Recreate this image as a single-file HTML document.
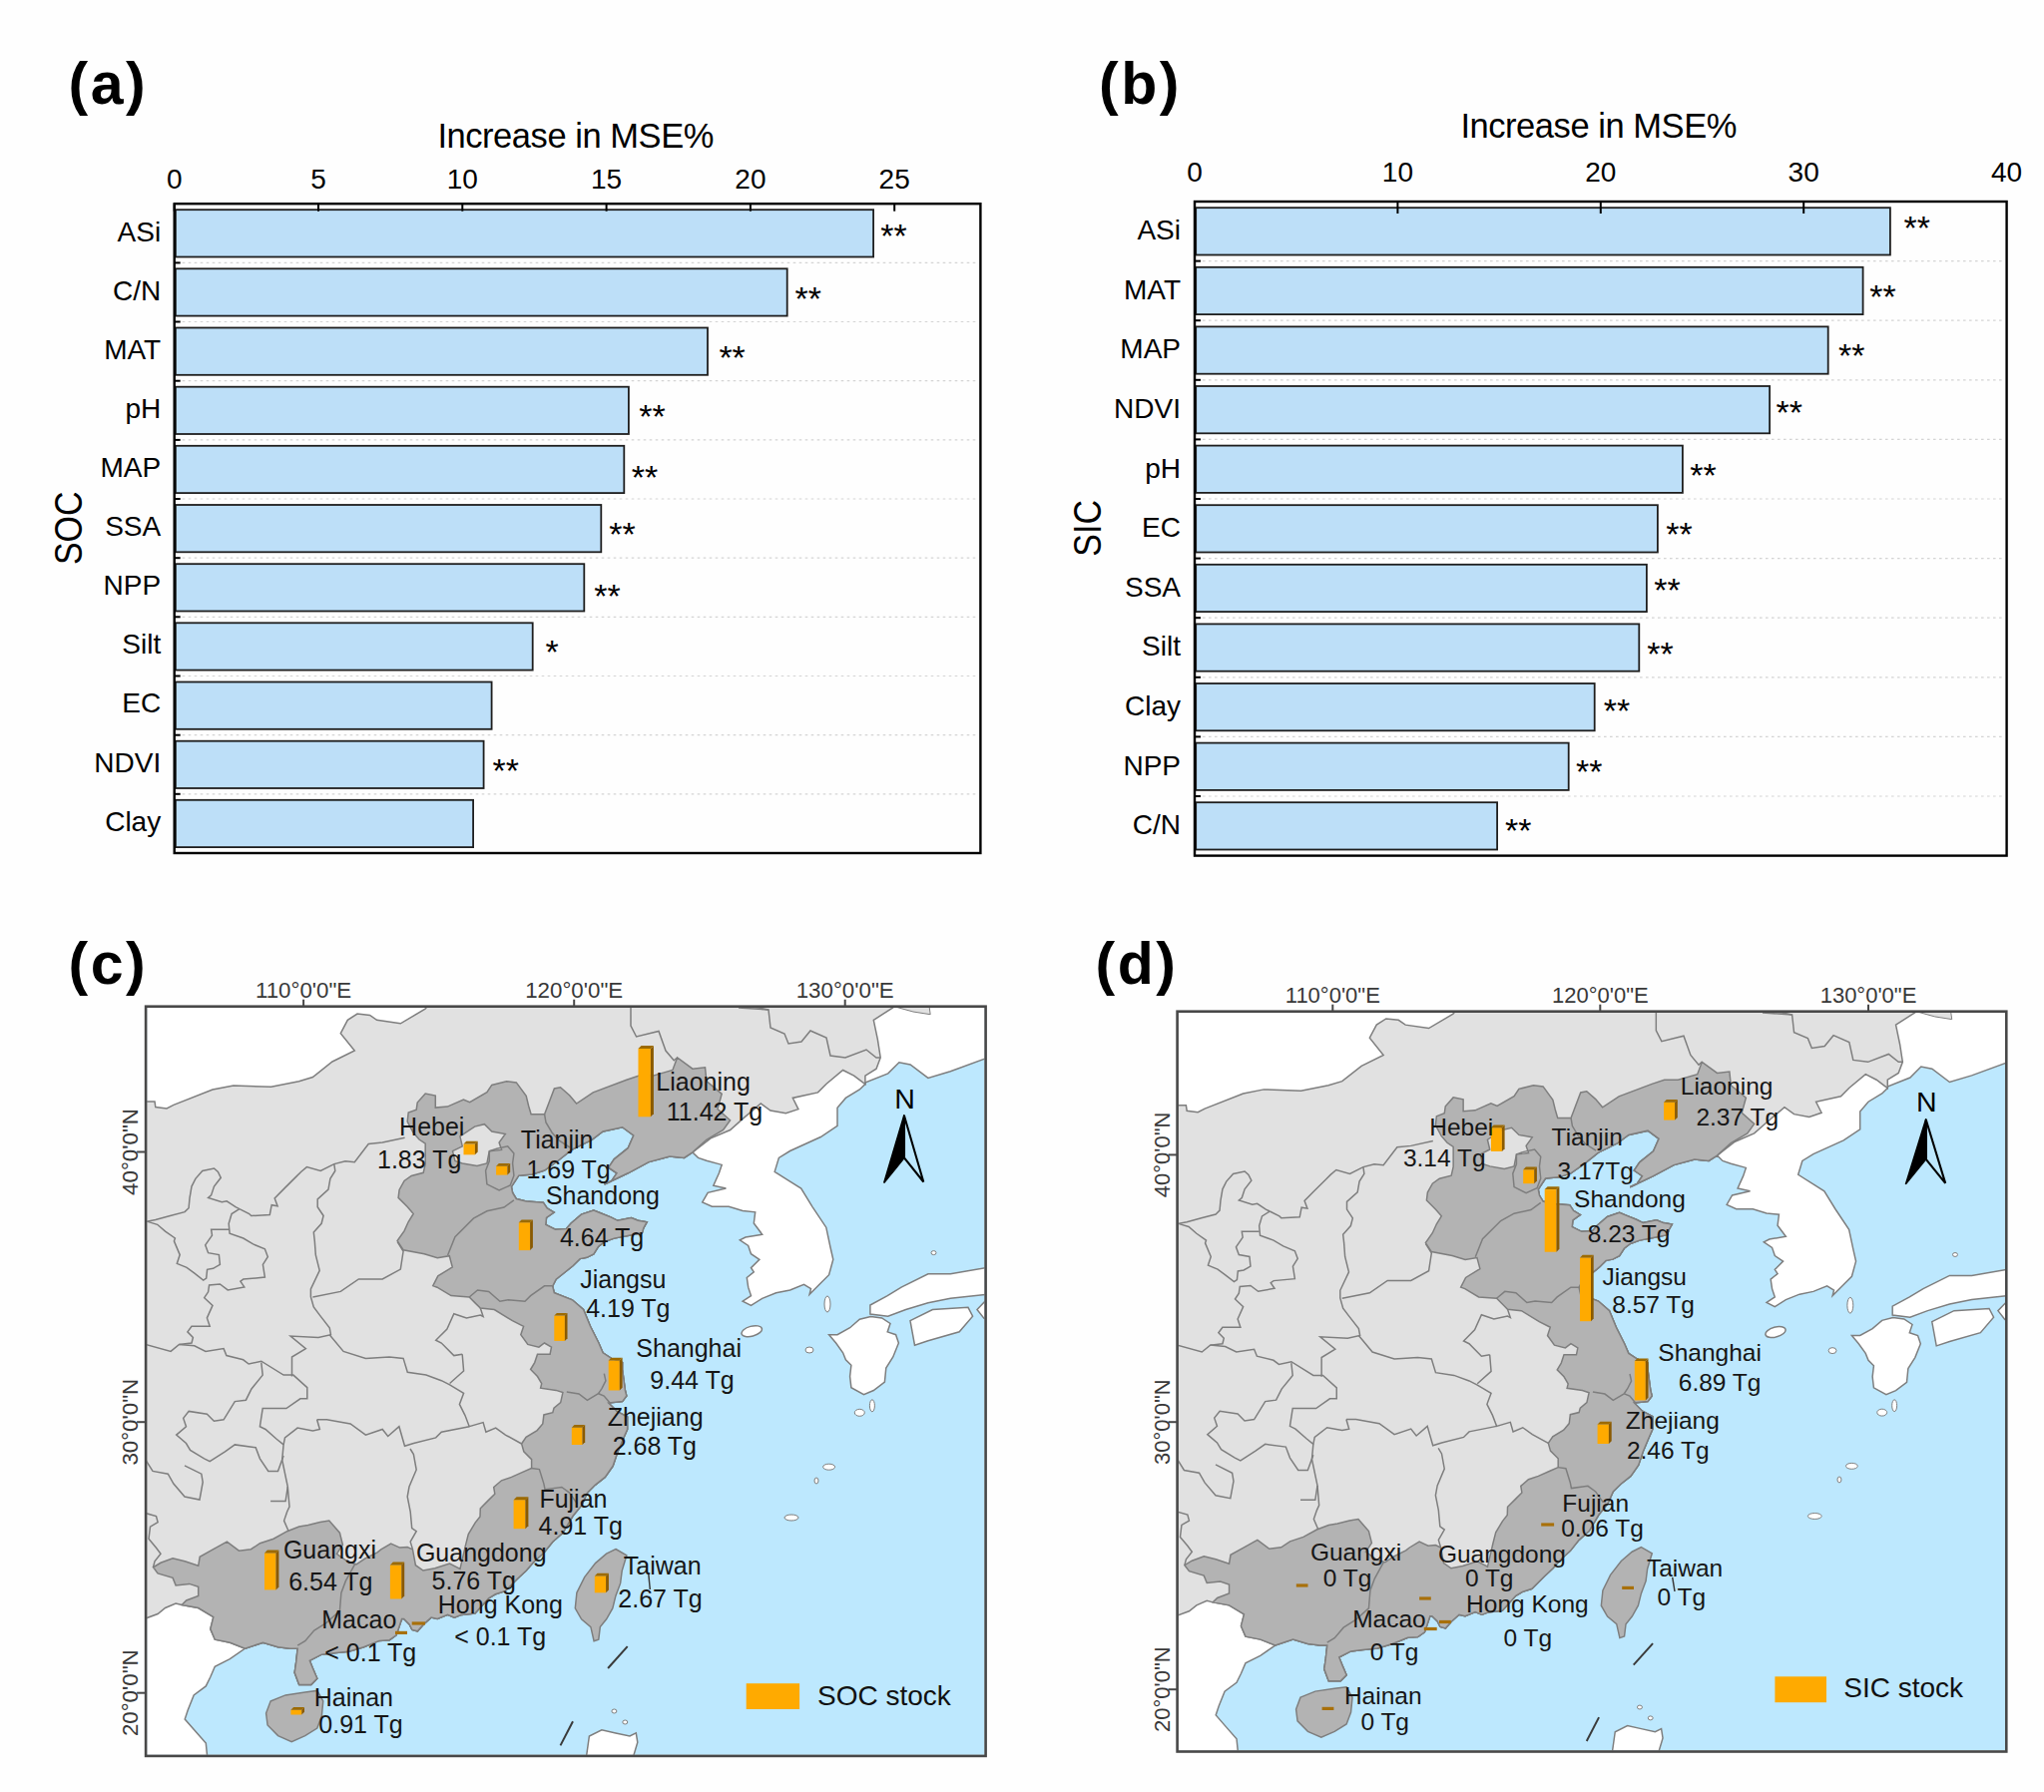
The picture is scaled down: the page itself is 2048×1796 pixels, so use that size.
<!DOCTYPE html><html><head><meta charset="utf-8"><style>html,body{margin:0;padding:0;background:#fff;}body{width:2048px;height:1796px;overflow:hidden;}svg{display:block;}</style></head><body>
<svg xmlns="http://www.w3.org/2000/svg" width="2048" height="1796" viewBox="0 0 2048 1796" font-family="'Liberation Sans', sans-serif">
<rect x="0" y="0" width="2048" height="1796" fill="#fefefe"/>
<line x1="176.7" y1="263.4" x2="980.4" y2="263.4" stroke="#d4d4d4" stroke-width="1.2" stroke-dasharray="2.6 3.4"/>
<line x1="176.7" y1="322.5" x2="980.4" y2="322.5" stroke="#d4d4d4" stroke-width="1.2" stroke-dasharray="2.6 3.4"/>
<line x1="176.7" y1="381.7" x2="980.4" y2="381.7" stroke="#d4d4d4" stroke-width="1.2" stroke-dasharray="2.6 3.4"/>
<line x1="176.7" y1="440.9" x2="980.4" y2="440.9" stroke="#d4d4d4" stroke-width="1.2" stroke-dasharray="2.6 3.4"/>
<line x1="176.7" y1="500.0" x2="980.4" y2="500.0" stroke="#d4d4d4" stroke-width="1.2" stroke-dasharray="2.6 3.4"/>
<line x1="176.7" y1="559.2" x2="980.4" y2="559.2" stroke="#d4d4d4" stroke-width="1.2" stroke-dasharray="2.6 3.4"/>
<line x1="176.7" y1="618.3" x2="980.4" y2="618.3" stroke="#d4d4d4" stroke-width="1.2" stroke-dasharray="2.6 3.4"/>
<line x1="176.7" y1="677.5" x2="980.4" y2="677.5" stroke="#d4d4d4" stroke-width="1.2" stroke-dasharray="2.6 3.4"/>
<line x1="176.7" y1="736.7" x2="980.4" y2="736.7" stroke="#d4d4d4" stroke-width="1.2" stroke-dasharray="2.6 3.4"/>
<line x1="176.7" y1="795.8" x2="980.4" y2="795.8" stroke="#d4d4d4" stroke-width="1.2" stroke-dasharray="2.6 3.4"/>
<rect x="175.9" y="210.2" width="699.2" height="47.3" fill="#bddff8" stroke="#1e1e1e" stroke-width="1.8"/>
<text x="161.2" y="241.7" font-size="28" text-anchor="end" font-weight="normal" fill="#000" >ASi</text>
<rect x="175.9" y="269.3" width="612.8" height="47.3" fill="#bddff8" stroke="#1e1e1e" stroke-width="1.8"/>
<text x="161.2" y="300.8" font-size="28" text-anchor="end" font-weight="normal" fill="#000" >C/N</text>
<rect x="175.9" y="328.5" width="533.1" height="47.3" fill="#bddff8" stroke="#1e1e1e" stroke-width="1.8"/>
<text x="161.2" y="359.8" font-size="28" text-anchor="end" font-weight="normal" fill="#000" >MAT</text>
<rect x="175.9" y="387.7" width="454.0" height="47.3" fill="#bddff8" stroke="#1e1e1e" stroke-width="1.8"/>
<text x="161.2" y="418.9" font-size="28" text-anchor="end" font-weight="normal" fill="#000" >pH</text>
<rect x="175.9" y="446.8" width="449.4" height="47.3" fill="#bddff8" stroke="#1e1e1e" stroke-width="1.8"/>
<text x="161.2" y="478.0" font-size="28" text-anchor="end" font-weight="normal" fill="#000" >MAP</text>
<rect x="175.9" y="506.0" width="426.4" height="47.3" fill="#bddff8" stroke="#1e1e1e" stroke-width="1.8"/>
<text x="161.2" y="537.1" font-size="28" text-anchor="end" font-weight="normal" fill="#000" >SSA</text>
<rect x="175.9" y="565.2" width="409.4" height="47.3" fill="#bddff8" stroke="#1e1e1e" stroke-width="1.8"/>
<text x="161.2" y="596.2" font-size="28" text-anchor="end" font-weight="normal" fill="#000" >NPP</text>
<rect x="175.9" y="624.3" width="357.8" height="47.3" fill="#bddff8" stroke="#1e1e1e" stroke-width="1.8"/>
<text x="161.2" y="655.4" font-size="28" text-anchor="end" font-weight="normal" fill="#000" >Silt</text>
<rect x="175.9" y="683.5" width="316.7" height="47.3" fill="#bddff8" stroke="#1e1e1e" stroke-width="1.8"/>
<text x="161.2" y="714.4" font-size="28" text-anchor="end" font-weight="normal" fill="#000" >EC</text>
<rect x="175.9" y="742.7" width="308.7" height="47.3" fill="#bddff8" stroke="#1e1e1e" stroke-width="1.8"/>
<text x="161.2" y="773.6" font-size="28" text-anchor="end" font-weight="normal" fill="#000" >NDVI</text>
<rect x="175.9" y="801.8" width="298.2" height="47.3" fill="#bddff8" stroke="#1e1e1e" stroke-width="1.8"/>
<text x="161.2" y="832.6" font-size="28" text-anchor="end" font-weight="normal" fill="#000" >Clay</text>
<line x1="174.7" y1="263.4" x2="180.7" y2="263.4" stroke="#000" stroke-width="2"/>
<line x1="174.7" y1="322.5" x2="180.7" y2="322.5" stroke="#000" stroke-width="2"/>
<line x1="174.7" y1="381.7" x2="180.7" y2="381.7" stroke="#000" stroke-width="2"/>
<line x1="174.7" y1="440.9" x2="180.7" y2="440.9" stroke="#000" stroke-width="2"/>
<line x1="174.7" y1="500.0" x2="180.7" y2="500.0" stroke="#000" stroke-width="2"/>
<line x1="174.7" y1="559.2" x2="180.7" y2="559.2" stroke="#000" stroke-width="2"/>
<line x1="174.7" y1="618.3" x2="180.7" y2="618.3" stroke="#000" stroke-width="2"/>
<line x1="174.7" y1="677.5" x2="180.7" y2="677.5" stroke="#000" stroke-width="2"/>
<line x1="174.7" y1="736.7" x2="180.7" y2="736.7" stroke="#000" stroke-width="2"/>
<line x1="174.7" y1="795.8" x2="180.7" y2="795.8" stroke="#000" stroke-width="2"/>
<text x="882.2" y="248.4" font-size="34" text-anchor="start" font-weight="normal" fill="#000" >**</text>
<text x="796.6" y="311.0" font-size="34" text-anchor="start" font-weight="normal" fill="#000" >**</text>
<text x="720.4" y="370.0" font-size="34" text-anchor="start" font-weight="normal" fill="#000" >**</text>
<text x="640.3" y="429.3" font-size="34" text-anchor="start" font-weight="normal" fill="#000" >**</text>
<text x="632.8" y="489.5" font-size="34" text-anchor="start" font-weight="normal" fill="#000" >**</text>
<text x="610.2" y="547.0" font-size="34" text-anchor="start" font-weight="normal" fill="#000" >**</text>
<text x="595.2" y="608.8" font-size="34" text-anchor="start" font-weight="normal" fill="#000" >**</text>
<text x="546.6" y="665.0" font-size="34" text-anchor="start" font-weight="normal" fill="#000" >*</text>
<text x="493.5" y="783.6" font-size="34" text-anchor="start" font-weight="normal" fill="#000" >**</text>
<rect x="174.7" y="204.2" width="807.7" height="650.8" fill="none" stroke="#000" stroke-width="2.4"/>
<line x1="174.7" y1="204.2" x2="174.7" y2="211.7" stroke="#000" stroke-width="2"/>
<text x="174.7" y="189.0" font-size="28" text-anchor="middle" font-weight="normal" fill="#000" >0</text>
<line x1="319.0" y1="204.2" x2="319.0" y2="211.7" stroke="#000" stroke-width="2"/>
<text x="319.0" y="189.0" font-size="28" text-anchor="middle" font-weight="normal" fill="#000" >5</text>
<line x1="463.3" y1="204.2" x2="463.3" y2="211.7" stroke="#000" stroke-width="2"/>
<text x="463.3" y="189.0" font-size="28" text-anchor="middle" font-weight="normal" fill="#000" >10</text>
<line x1="607.6" y1="204.2" x2="607.6" y2="211.7" stroke="#000" stroke-width="2"/>
<text x="607.6" y="189.0" font-size="28" text-anchor="middle" font-weight="normal" fill="#000" >15</text>
<line x1="751.9" y1="204.2" x2="751.9" y2="211.7" stroke="#000" stroke-width="2"/>
<text x="751.9" y="189.0" font-size="28" text-anchor="middle" font-weight="normal" fill="#000" >20</text>
<line x1="896.2" y1="204.2" x2="896.2" y2="211.7" stroke="#000" stroke-width="2"/>
<text x="896.2" y="189.0" font-size="28" text-anchor="middle" font-weight="normal" fill="#000" >25</text>
<text x="576.7" y="147.8" font-size="34.5" text-anchor="middle" font-weight="normal" fill="#000" letter-spacing="-0.45">Increase in MSE%</text>
<text x="68.5" y="103.5" font-size="59" text-anchor="start" font-weight="bold" fill="#000" letter-spacing="2.5">(a)</text>
<g transform="translate(68.2 529.3) scale(1.12 1)"><text x="12.3" y="0" font-size="34" text-anchor="middle" transform="rotate(-90 12.3 0)">SOC</text></g>
<line x1="1199.0" y1="261.6" x2="2008.6" y2="261.6" stroke="#d4d4d4" stroke-width="1.2" stroke-dasharray="2.6 3.4"/>
<line x1="1199.0" y1="321.2" x2="2008.6" y2="321.2" stroke="#d4d4d4" stroke-width="1.2" stroke-dasharray="2.6 3.4"/>
<line x1="1199.0" y1="380.8" x2="2008.6" y2="380.8" stroke="#d4d4d4" stroke-width="1.2" stroke-dasharray="2.6 3.4"/>
<line x1="1199.0" y1="440.4" x2="2008.6" y2="440.4" stroke="#d4d4d4" stroke-width="1.2" stroke-dasharray="2.6 3.4"/>
<line x1="1199.0" y1="500.0" x2="2008.6" y2="500.0" stroke="#d4d4d4" stroke-width="1.2" stroke-dasharray="2.6 3.4"/>
<line x1="1199.0" y1="559.6" x2="2008.6" y2="559.6" stroke="#d4d4d4" stroke-width="1.2" stroke-dasharray="2.6 3.4"/>
<line x1="1199.0" y1="619.2" x2="2008.6" y2="619.2" stroke="#d4d4d4" stroke-width="1.2" stroke-dasharray="2.6 3.4"/>
<line x1="1199.0" y1="678.8" x2="2008.6" y2="678.8" stroke="#d4d4d4" stroke-width="1.2" stroke-dasharray="2.6 3.4"/>
<line x1="1199.0" y1="738.4" x2="2008.6" y2="738.4" stroke="#d4d4d4" stroke-width="1.2" stroke-dasharray="2.6 3.4"/>
<line x1="1199.0" y1="798.0" x2="2008.6" y2="798.0" stroke="#d4d4d4" stroke-width="1.2" stroke-dasharray="2.6 3.4"/>
<rect x="1198.2" y="208.2" width="695.7" height="47.3" fill="#bddff8" stroke="#1e1e1e" stroke-width="1.8"/>
<text x="1183.0" y="240.2" font-size="28" text-anchor="end" font-weight="normal" fill="#000" >ASi</text>
<rect x="1198.2" y="267.8" width="668.4" height="47.3" fill="#bddff8" stroke="#1e1e1e" stroke-width="1.8"/>
<text x="1183.0" y="299.8" font-size="28" text-anchor="end" font-weight="normal" fill="#000" >MAT</text>
<rect x="1198.2" y="327.4" width="633.5" height="47.3" fill="#bddff8" stroke="#1e1e1e" stroke-width="1.8"/>
<text x="1183.0" y="359.4" font-size="28" text-anchor="end" font-weight="normal" fill="#000" >MAP</text>
<rect x="1198.2" y="387.0" width="574.9" height="47.3" fill="#bddff8" stroke="#1e1e1e" stroke-width="1.8"/>
<text x="1183.0" y="419.0" font-size="28" text-anchor="end" font-weight="normal" fill="#000" >NDVI</text>
<rect x="1198.2" y="446.6" width="487.7" height="47.3" fill="#bddff8" stroke="#1e1e1e" stroke-width="1.8"/>
<text x="1183.0" y="478.6" font-size="28" text-anchor="end" font-weight="normal" fill="#000" >pH</text>
<rect x="1198.2" y="506.2" width="462.7" height="47.3" fill="#bddff8" stroke="#1e1e1e" stroke-width="1.8"/>
<text x="1183.0" y="538.2" font-size="28" text-anchor="end" font-weight="normal" fill="#000" >EC</text>
<rect x="1198.2" y="565.8" width="451.7" height="47.3" fill="#bddff8" stroke="#1e1e1e" stroke-width="1.8"/>
<text x="1183.0" y="597.8" font-size="28" text-anchor="end" font-weight="normal" fill="#000" >SSA</text>
<rect x="1198.2" y="625.4" width="444.1" height="47.3" fill="#bddff8" stroke="#1e1e1e" stroke-width="1.8"/>
<text x="1183.0" y="657.4" font-size="28" text-anchor="end" font-weight="normal" fill="#000" >Silt</text>
<rect x="1198.2" y="685.0" width="399.5" height="47.3" fill="#bddff8" stroke="#1e1e1e" stroke-width="1.8"/>
<text x="1183.0" y="717.0" font-size="28" text-anchor="end" font-weight="normal" fill="#000" >Clay</text>
<rect x="1198.2" y="744.6" width="373.5" height="47.3" fill="#bddff8" stroke="#1e1e1e" stroke-width="1.8"/>
<text x="1183.0" y="776.6" font-size="28" text-anchor="end" font-weight="normal" fill="#000" >NPP</text>
<rect x="1198.2" y="804.2" width="301.9" height="47.3" fill="#bddff8" stroke="#1e1e1e" stroke-width="1.8"/>
<text x="1183.0" y="836.2" font-size="28" text-anchor="end" font-weight="normal" fill="#000" >C/N</text>
<line x1="1197.0" y1="261.6" x2="1203.0" y2="261.6" stroke="#000" stroke-width="2"/>
<line x1="1197.0" y1="321.2" x2="1203.0" y2="321.2" stroke="#000" stroke-width="2"/>
<line x1="1197.0" y1="380.8" x2="1203.0" y2="380.8" stroke="#000" stroke-width="2"/>
<line x1="1197.0" y1="440.4" x2="1203.0" y2="440.4" stroke="#000" stroke-width="2"/>
<line x1="1197.0" y1="500.0" x2="1203.0" y2="500.0" stroke="#000" stroke-width="2"/>
<line x1="1197.0" y1="559.6" x2="1203.0" y2="559.6" stroke="#000" stroke-width="2"/>
<line x1="1197.0" y1="619.2" x2="1203.0" y2="619.2" stroke="#000" stroke-width="2"/>
<line x1="1197.0" y1="678.8" x2="1203.0" y2="678.8" stroke="#000" stroke-width="2"/>
<line x1="1197.0" y1="738.4" x2="1203.0" y2="738.4" stroke="#000" stroke-width="2"/>
<line x1="1197.0" y1="798.0" x2="1203.0" y2="798.0" stroke="#000" stroke-width="2"/>
<text x="1907.5" y="240.0" font-size="34" text-anchor="start" font-weight="normal" fill="#000" >**</text>
<text x="1873.2" y="309.0" font-size="34" text-anchor="start" font-weight="normal" fill="#000" >**</text>
<text x="1842.0" y="367.7" font-size="34" text-anchor="start" font-weight="normal" fill="#000" >**</text>
<text x="1779.5" y="425.3" font-size="34" text-anchor="start" font-weight="normal" fill="#000" >**</text>
<text x="1693.3" y="488.0" font-size="34" text-anchor="start" font-weight="normal" fill="#000" >**</text>
<text x="1669.3" y="547.2" font-size="34" text-anchor="start" font-weight="normal" fill="#000" >**</text>
<text x="1657.3" y="603.3" font-size="34" text-anchor="start" font-weight="normal" fill="#000" >**</text>
<text x="1650.2" y="667.4" font-size="34" text-anchor="start" font-weight="normal" fill="#000" >**</text>
<text x="1606.7" y="724.0" font-size="34" text-anchor="start" font-weight="normal" fill="#000" >**</text>
<text x="1579.1" y="785.1" font-size="34" text-anchor="start" font-weight="normal" fill="#000" >**</text>
<text x="1508.0" y="843.8" font-size="34" text-anchor="start" font-weight="normal" fill="#000" >**</text>
<rect x="1197.0" y="202.0" width="813.6" height="655.6" fill="none" stroke="#000" stroke-width="2.4"/>
<line x1="1197.0" y1="202.0" x2="1197.0" y2="214.0" stroke="#000" stroke-width="2"/>
<text x="1197.0" y="181.6" font-size="28" text-anchor="middle" font-weight="normal" fill="#000" >0</text>
<line x1="1400.4" y1="202.0" x2="1400.4" y2="214.0" stroke="#000" stroke-width="2"/>
<text x="1400.4" y="181.6" font-size="28" text-anchor="middle" font-weight="normal" fill="#000" >10</text>
<line x1="1603.8" y1="202.0" x2="1603.8" y2="214.0" stroke="#000" stroke-width="2"/>
<text x="1603.8" y="181.6" font-size="28" text-anchor="middle" font-weight="normal" fill="#000" >20</text>
<line x1="1807.2" y1="202.0" x2="1807.2" y2="214.0" stroke="#000" stroke-width="2"/>
<text x="1807.2" y="181.6" font-size="28" text-anchor="middle" font-weight="normal" fill="#000" >30</text>
<text x="2010.6" y="181.6" font-size="28" text-anchor="middle" font-weight="normal" fill="#000" >40</text>
<text x="1601.7" y="137.8" font-size="34.5" text-anchor="middle" font-weight="normal" fill="#000" letter-spacing="-0.45">Increase in MSE%</text>
<text x="1101.0" y="103.5" font-size="59" text-anchor="start" font-weight="bold" fill="#000" letter-spacing="2.5">(b)</text>
<g transform="translate(1089.7 529.4) scale(1.12 1)"><text x="12.3" y="0" font-size="34" text-anchor="middle" transform="rotate(-90 12.3 0)">SIC</text></g>
<defs><clipPath id="cc"><rect x="147.2" y="1009.9" width="839.2" height="748.8"/></clipPath>
<clipPath id="cd"><rect x="147.2" y="1009.9" width="839.2" height="748.8"/></clipPath></defs>
<g clip-path="url(#cc)">
<rect x="146.1" y="1008.7" width="841.5" height="751.2" fill="#bde8fe"/>
<polygon points="140.0,1000.0 995.0,1000.0 992.0,1059.2 952.3,1073.7 929.9,1080.4 912.1,1067.0 900.9,1064.7 889.8,1075.9 867.4,1084.8 866.9,1086.5 861.3,1092.0 847.4,1100.4 839.0,1110.2 839.0,1128.3 822.3,1139.5 791.6,1153.5 780.4,1160.4 776.2,1174.4 791.6,1184.2 802.7,1191.1 813.9,1209.3 827.8,1230.2 832.0,1250.0 834.8,1262.3 830.6,1277.7 822.3,1286.0 811.1,1297.2 812.5,1291.6 805.5,1287.4 791.6,1293.0 777.6,1295.8 763.7,1301.4 752.5,1308.4 744.1,1304.2 752.5,1298.6 749.7,1290.2 748.3,1280.5 755.3,1274.9 752.5,1270.7 760.9,1262.3 752.5,1256.7 749.7,1248.4 741.3,1242.8 746.9,1240.0 763.7,1237.2 755.3,1226.0 756.7,1214.8 744.1,1213.5 730.2,1209.3 713.4,1209.3 703.7,1205.0 709.2,1195.3 727.4,1191.1 714.8,1188.3 720.4,1175.8 723.2,1167.4 707.9,1163.2 699.5,1160.4 693.9,1154.9 685.5,1160.4 671.0,1159.0 650.0,1164.6 629.2,1175.8 605.5,1187.0 612.5,1184.0 618.0,1175.8 609.7,1170.2 615.3,1161.8 629.2,1150.7 634.8,1138.0 623.6,1129.7 604.1,1134.0 593.0,1142.3 573.4,1152.0 559.5,1163.0 545.5,1173.0 533.3,1177.0 519.8,1178.2 512.4,1189.3 513.6,1195.4 517.3,1201.5 527.2,1204.0 544.3,1205.2 548.2,1211.0 555.1,1215.1 547.5,1220.5 546.8,1227.4 556.4,1232.2 567.4,1231.5 572.2,1226.0 582.5,1217.1 594.8,1213.0 601.6,1215.8 611.9,1219.9 618.8,1223.3 632.5,1220.5 639.3,1223.3 648.2,1224.7 644.8,1230.8 643.4,1235.6 629.0,1238.4 615.3,1241.1 605.8,1244.5 599.6,1249.3 594.8,1256.8 587.9,1260.3 581.1,1261.6 574.2,1268.5 567.4,1274.0 557.1,1282.2 553.7,1289.0 555.3,1295.8 573.4,1302.8 584.6,1312.5 591.5,1329.3 599.9,1346.0 604.1,1355.8 612.5,1361.4 623.6,1365.6 623.6,1372.5 626.4,1393.5 627.8,1399.0 623.6,1404.6 609.7,1406.0 618.0,1414.4 628.6,1420.0 628.6,1432.5 624.2,1442.5 618.6,1455.9 614.1,1469.3 606.3,1480.4 596.3,1488.3 588.4,1496.1 582.9,1508.4 573.9,1519.5 563.9,1536.3 553.8,1545.2 544.9,1556.3 534.9,1565.3 527.1,1574.2 518.5,1582.2 506.0,1594.7 496.4,1597.8 489.6,1601.9 475.9,1617.0 462.2,1618.4 455.3,1621.1 448.5,1618.4 438.2,1622.5 432.1,1621.1 424.5,1627.9 418.4,1634.8 412.9,1633.4 410.1,1627.9 404.7,1622.5 402.6,1622.5 397.1,1638.9 390.3,1643.7 380.0,1644.4 364.5,1650.7 349.4,1655.2 334.4,1656.7 322.3,1658.2 310.3,1664.3 313.3,1671.8 317.8,1682.3 311.8,1688.4 299.7,1688.4 295.2,1676.3 296.7,1665.8 298.2,1652.2 290.7,1652.2 278.6,1650.7 263.5,1646.2 245.5,1652.2 230.4,1662.7 215.3,1670.3 210.8,1680.8 206.3,1689.9 194.2,1698.9 188.2,1714.0 185.2,1723.0 195.7,1735.1 206.3,1747.1 207.8,1762.0 140.0,1765.0" fill="#fff" stroke="#7e7e7e" stroke-width="1.5"/>
<polygon points="140.0,1103.9 155.0,1104.0 155.8,1109.5 167.0,1111.0 174.0,1107.4 213.0,1092.0 233.9,1087.9 271.6,1089.3 299.5,1083.7 313.4,1079.5 333.0,1064.0 355.3,1053.0 341.3,1035.6 348.3,1022.3 358.0,1016.0 370.6,1017.4 377.6,1022.3 401.3,1025.8 426.0,1011.2 432.0,1004.0 894.8,1004.0 894.8,1009.8 875.3,1022.3 879.4,1041.9 882.2,1060.0 878.0,1071.2 866.9,1078.1 866.9,1086.5 861.3,1082.3 855.7,1078.1 844.6,1072.5 827.8,1086.5 819.5,1094.9 794.3,1100.4 799.9,1111.6 787.4,1115.8 772.0,1113.0 762.3,1106.0 744.1,1121.4 731.6,1132.5 712.0,1140.9 693.9,1154.9 685.5,1160.4 671.0,1159.0 650.0,1164.6 629.2,1175.8 605.5,1187.0 612.5,1184.0 618.0,1175.8 609.7,1170.2 615.3,1161.8 629.2,1150.7 634.8,1138.0 623.6,1129.7 604.1,1134.0 593.0,1142.3 573.4,1152.0 559.5,1163.0 545.5,1173.0 533.3,1177.0 519.8,1178.2 512.4,1189.3 513.6,1195.4 517.3,1201.5 527.2,1204.0 544.3,1205.2 548.2,1211.0 555.1,1215.1 547.5,1220.5 546.8,1227.4 556.4,1232.2 567.4,1231.5 572.2,1226.0 582.5,1217.1 594.8,1213.0 601.6,1215.8 611.9,1219.9 618.8,1223.3 632.5,1220.5 639.3,1223.3 648.2,1224.7 644.8,1230.8 643.4,1235.6 629.0,1238.4 615.3,1241.1 605.8,1244.5 599.6,1249.3 594.8,1256.8 587.9,1260.3 581.1,1261.6 574.2,1268.5 567.4,1274.0 557.1,1282.2 553.7,1289.0 555.3,1295.8 573.4,1302.8 584.6,1312.5 591.5,1329.3 599.9,1346.0 604.1,1355.8 612.5,1361.4 623.6,1365.6 623.6,1372.5 626.4,1393.5 627.8,1399.0 623.6,1404.6 609.7,1406.0 618.0,1414.4 628.6,1420.0 628.6,1432.5 624.2,1442.5 618.6,1455.9 614.1,1469.3 606.3,1480.4 596.3,1488.3 588.4,1496.1 582.9,1508.4 573.9,1519.5 563.9,1536.3 553.8,1545.2 544.9,1556.3 534.9,1565.3 527.1,1574.2 518.5,1582.2 506.0,1594.7 496.4,1597.8 489.6,1601.9 475.9,1617.0 462.2,1618.4 455.3,1621.1 448.5,1618.4 438.2,1622.5 432.1,1621.1 424.5,1627.9 418.4,1634.8 412.9,1633.4 410.1,1627.9 404.7,1622.5 402.6,1622.5 397.1,1638.9 390.3,1643.7 380.0,1644.4 364.5,1650.7 349.4,1655.2 334.4,1656.7 322.3,1658.2 310.3,1664.3 313.3,1671.8 317.8,1682.3 311.8,1688.4 299.7,1688.4 295.2,1676.3 296.7,1665.8 298.2,1652.2 290.7,1652.2 278.6,1650.7 263.5,1646.2 245.5,1652.2 230.4,1646.2 215.3,1643.2 210.8,1632.6 213.8,1620.6 198.7,1611.5 182.2,1608.5 176.1,1607.0 165.6,1611.5 158.1,1617.5 146.0,1622.0 140.0,1622.0" fill="#e1e1e1" stroke="#7e7e7e" stroke-width="1.5"/>
<polygon points="897.6,1008.0 931.0,1008.0 932.2,1016.7 915.0,1014.0 898.7,1009.5" fill="#e1e1e1" stroke="#7e7e7e" stroke-width="1"/>
<polyline points="146.0,1224.4 155.8,1222.4 170.5,1218.5 185.1,1214.6 189.1,1210.7 190.0,1200.9 192.0,1189.1 195.9,1181.3 202.8,1173.5 214.5,1171.0 218.4,1174.5 221.3,1180.3 214.5,1189.1 211.6,1197.9 208.6,1200.4 222.3,1204.8 227.2,1203.8 236.0,1209.7 239.9,1211.6" fill="none" stroke="#7e7e7e" stroke-width="1.5"/>
<polyline points="239.9,1211.6 249.7,1216.5 251.7,1218.5 270.3,1217.5 272.2,1207.7 278.1,1208.7 275.2,1200.9 284.9,1191.1 296.7,1179.4 301.6,1174.5 307.4,1169.6 321.2,1173.5 334.8,1166.6 346.0,1163.7 355.3,1164.7 369.2,1146.5 383.2,1145.1 405.6,1140.2" fill="none" stroke="#7e7e7e" stroke-width="1.5"/>
<polyline points="334.8,1166.6 335.8,1173.5 330.9,1181.3 329.0,1192.1 318.2,1201.9 318.2,1209.7 324.1,1218.5 322.1,1226.3 314.3,1235.1 315.3,1243.9 316.3,1257.6 320.2,1273.3 311.4,1291.9 311.4,1299.7 314.3,1310.0 320.4,1318.1 330.2,1330.7 331.5,1337.7 319.0,1340.4 291.1,1339.0 306.4,1351.6 292.5,1360.0 292.5,1379.5" fill="none" stroke="#7e7e7e" stroke-width="1.5"/>
<polyline points="239.9,1211.6 232.1,1216.5 229.2,1226.3 230.1,1236.1 243.8,1241.0 253.6,1246.9 265.4,1251.8 268.3,1259.6 263.4,1267.4 265.4,1280.1 243.8,1282.1 240.9,1284.1 244.8,1289.9 228.2,1292.9 220.4,1287.0 209.6,1288.0 208.6,1294.8 204.7,1300.7 213.0,1308.4 207.4,1320.9 210.2,1329.3 192.0,1329.3 187.9,1334.9 193.4,1340.4 192.0,1346.0 179.5,1347.4 171.1,1354.4 146.0,1347.4" fill="none" stroke="#7e7e7e" stroke-width="1.5"/>
<polyline points="229.2,1232.2 211.6,1232.2 212.5,1238.1 205.7,1247.8 208.6,1255.7 219.4,1257.6 220.4,1267.4 213.5,1271.3 207.6,1272.3 206.7,1281.1 203.7,1283.1 194.9,1276.2 187.1,1270.4 177.3,1266.4 180.2,1257.6 174.4,1243.9 175.4,1241.0 165.6,1234.1 157.7,1227.3 148.0,1224.4" fill="none" stroke="#7e7e7e" stroke-width="1.5"/>
<polyline points="179.5,1347.4 194.8,1348.8 206.0,1354.4 224.1,1351.6 226.9,1358.6 243.7,1362.8 249.2,1367.0 261.8,1364.2 284.1,1378.1 293.9,1378.1 307.8,1390.7 307.8,1401.8 300.9,1401.8 286.9,1411.6 263.2,1411.6 260.4,1429.7 266.0,1432.5 277.1,1442.3 284.1,1447.9 282.7,1463.2 288.3,1490.0 290.0,1510.0 287.7,1515.0 284.6,1524.1 289.2,1534.7" fill="none" stroke="#7e7e7e" stroke-width="1.5"/>
<polyline points="261.8,1365.6 263.2,1378.1 252.0,1392.0 246.4,1403.2 235.3,1404.6 224.1,1422.8 214.4,1424.2 207.4,1417.2 189.2,1414.4 183.7,1421.4 186.5,1429.7 176.7,1438.1 186.5,1446.5 190.6,1453.4 204.6,1461.8 210.2,1464.6 225.5,1454.8 235.3,1447.9 256.2,1450.7 260.4,1461.8 268.8,1474.4 278.5,1474.4 284.1,1459.0" fill="none" stroke="#7e7e7e" stroke-width="1.5"/>
<polyline points="146.0,1463.2 153.0,1474.4 168.3,1477.2 173.9,1487.0 185.0,1500.0 200.0,1503.0 203.2,1485.5 201.8,1477.2 185.0,1468.8" fill="none" stroke="#7e7e7e" stroke-width="1.5"/>
<polyline points="146.0,1516.6 156.5,1519.6 158.1,1525.6 150.5,1530.1 149.0,1542.2 156.5,1551.2 161.0,1557.3 155.0,1564.8 153.5,1570.8" fill="none" stroke="#7e7e7e" stroke-width="1.5"/>
<polyline points="330.2,1337.7 344.1,1354.4 366.4,1361.4 390.1,1360.0 404.1,1361.4 408.3,1375.3 426.9,1378.1 442.3,1383.7 450.6,1387.9 464.6,1396.3 460.4,1407.4 466.0,1418.6 470.2,1429.7 484.1,1425.6 486.9,1435.3 496.7,1431.1 506.4,1438.1 522.6,1447.0" fill="none" stroke="#7e7e7e" stroke-width="1.5"/>
<polyline points="313.4,1300.0 341.3,1294.4 359.4,1281.9 383.2,1281.9 401.3,1272.1 404.1,1254.0 398.2,1244.5" fill="none" stroke="#7e7e7e" stroke-width="1.5"/>
<polyline points="317.6,1422.8 327.4,1422.8 351.1,1427.0 366.4,1438.1 383.2,1432.5 388.7,1439.5 399.9,1429.7 405.5,1449.3 414.4,1446.5 436.7,1440.9 442.3,1435.3 470.2,1429.7" fill="none" stroke="#7e7e7e" stroke-width="1.5"/>
<polyline points="317.6,1422.8 320.4,1432.5 313.4,1434.0 298.1,1431.1 285.5,1440.9 284.1,1447.9" fill="none" stroke="#7e7e7e" stroke-width="1.5"/>
<polyline points="411.0,1452.0 414.4,1457.6 417.2,1473.0 410.0,1490.0 408.2,1500.0 411.2,1515.0 412.7,1531.6 417.2,1534.7 411.2,1545.2 413.5,1552.9" fill="none" stroke="#7e7e7e" stroke-width="1.5"/>
<polyline points="271.1,1504.5 286.1,1504.5 288.3,1490.0" fill="none" stroke="#7e7e7e" stroke-width="1.5"/>
<polyline points="463.2,1357.2 464.6,1374.0 450.6,1386.5" fill="none" stroke="#7e7e7e" stroke-width="1.5"/>
<polyline points="463.2,1357.2 454.8,1358.6 442.3,1346.0 436.7,1343.2 447.9,1332.0 454.8,1316.7 467.4,1321.0 481.3,1318.0 484.1,1319.5 481.3,1311.1" fill="none" stroke="#7e7e7e" stroke-width="1.5"/>
<polyline points="632.0,1008.0 632.0,1028.0 637.6,1039.0 660.0,1033.5 667.0,1053.0 675.2,1062.8 678.6,1060.0" fill="none" stroke="#7e7e7e" stroke-width="1.5"/>
<polyline points="740.0,1008.0 760.0,1010.0 770.0,1012.0" fill="none" stroke="#7e7e7e" stroke-width="1.5"/>
<polyline points="740.0,1010.0 770.0,1012.0 772.0,1030.0 786.0,1036.0 790.0,1046.0 803.0,1044.0 812.0,1033.0 828.0,1040.0 832.0,1058.0 847.0,1060.0 868.0,1052.0 878.0,1060.0 882.0,1060.0" fill="none" stroke="#7e7e7e" stroke-width="1.5"/>
<polygon points="693.9,1154.9 685.5,1160.4 671.0,1159.0 650.0,1164.6 629.2,1175.8 605.5,1187.0 612.5,1184.0 618.0,1175.8 609.7,1170.2 615.3,1161.8 629.2,1150.7 634.8,1138.0 623.6,1129.7 604.1,1134.0 593.0,1142.3 573.4,1152.0 559.5,1163.0 545.5,1173.0 533.3,1177.0 519.8,1178.2 512.4,1189.3 513.6,1195.4 517.3,1201.5 527.2,1204.0 544.3,1205.2 548.2,1211.0 555.1,1215.1 547.5,1220.5 546.8,1227.4 556.4,1232.2 567.4,1231.5 572.2,1226.0 582.5,1217.1 594.8,1213.0 601.6,1215.8 611.9,1219.9 618.8,1223.3 632.5,1220.5 639.3,1223.3 648.2,1224.7 644.8,1230.8 643.4,1235.6 629.0,1238.4 615.3,1241.1 605.8,1244.5 599.6,1249.3 594.8,1256.8 587.9,1260.3 581.1,1261.6 574.2,1268.5 567.4,1274.0 557.1,1282.2 553.7,1289.0 555.3,1295.8 573.4,1302.8 584.6,1312.5 591.5,1329.3 599.9,1346.0 604.1,1355.8 612.5,1361.4 623.6,1365.6 623.6,1372.5 626.4,1393.5 627.8,1399.0 623.6,1404.6 609.7,1406.0 618.0,1414.4 628.6,1420.0 628.6,1432.5 624.2,1442.5 618.6,1455.9 614.1,1469.3 606.3,1480.4 596.3,1488.3 588.4,1496.1 582.9,1508.4 573.9,1519.5 563.9,1536.3 553.8,1545.2 544.9,1556.3 534.9,1565.3 527.1,1574.2 518.5,1582.2 506.0,1594.7 496.4,1597.8 489.6,1601.9 475.9,1617.0 462.2,1618.4 455.3,1621.1 448.5,1618.4 438.2,1622.5 432.1,1621.1 424.5,1627.9 418.4,1634.8 412.9,1633.4 410.1,1627.9 404.7,1622.5 402.6,1622.5 397.1,1638.9 390.3,1643.7 380.0,1644.4 364.5,1650.7 349.4,1655.2 334.4,1656.7 322.3,1658.2 310.3,1664.3 313.3,1671.8 317.8,1682.3 311.8,1688.4 299.7,1688.4 295.2,1676.3 296.7,1665.8 298.2,1652.2 290.7,1652.2 278.6,1650.7 263.5,1646.2 245.5,1652.2 230.4,1646.2 215.3,1643.2 210.8,1632.6 213.8,1620.6 198.7,1611.5 182.2,1608.5 186.7,1604.0 198.7,1599.5 198.7,1590.4 189.7,1587.4 176.1,1588.9 173.1,1581.4 158.1,1576.9 153.5,1570.8 161.0,1566.3 173.1,1561.8 185.2,1564.8 198.7,1569.3 200.2,1560.3 213.8,1552.7 227.4,1545.2 239.4,1554.2 251.5,1552.7 260.5,1546.7 274.1,1542.2 287.7,1534.7 299.7,1530.1 308.7,1528.6 320.8,1525.6 329.8,1524.1 340.4,1536.2 343.4,1548.2 337.4,1557.3 347.9,1564.8 357.0,1567.8 366.0,1561.8 378.1,1555.8 381.8,1552.9 391.7,1547.0 400.6,1551.1 408.2,1550.5 413.5,1552.9 416.4,1568.7 424.0,1574.0 435.8,1571.7 450.5,1567.0 461.0,1572.3 466.3,1549.4 469.3,1537.6 476.3,1525.9 481.0,1520.0 481.3,1511.7 489.1,1503.9 495.8,1497.2 494.7,1490.5 502.5,1483.8 512.5,1480.4 524.8,1474.9 532.6,1471.5 532.6,1462.6 524.8,1454.8 522.6,1447.0 527.1,1440.3 538.2,1433.6 543.8,1426.9 544.9,1417.9 553.8,1415.7 555.0,1411.2 561.7,1405.7 563.9,1395.6 557.2,1393.4 541.6,1391.2 542.7,1386.7 538.5,1379.5 531.6,1372.5 535.7,1365.6 538.5,1357.2 551.1,1357.2 552.5,1350.2 545.5,1346.0 539.9,1350.2 528.8,1347.4 521.8,1337.7 524.6,1329.3 513.4,1323.7 495.3,1312.5 481.3,1311.1 475.8,1305.6 470.2,1300.0 452.0,1298.6 438.0,1290.2 433.8,1288.7 438.8,1278.9 453.3,1270.0 450.3,1258.7 438.3,1260.7 425.2,1256.7 404.1,1252.7 398.1,1243.6 405.1,1233.6 409.2,1224.5 414.2,1216.5 408.2,1209.5 399.1,1200.4 400.1,1192.4 405.1,1183.4 412.2,1178.4 424.2,1175.3 426.2,1166.3 426.2,1146.2 420.0,1142.0 414.0,1135.0 408.2,1124.1 409.2,1115.1 417.2,1112.1 418.2,1105.1 426.2,1096.0 436.3,1098.0 436.3,1110.1 448.3,1109.1 464.4,1102.0 470.7,1104.6 487.9,1094.7 492.8,1087.4 507.5,1083.7 517.3,1084.9 527.2,1098.4 529.6,1108.2 532.1,1116.8 545.6,1116.8 555.4,1091.0 561.5,1089.8 570.6,1097.7 577.6,1106.0 594.3,1094.9 627.8,1082.3 640.4,1078.1 654.3,1078.1 673.9,1072.5 678.6,1060.0 693.9,1071.2 706.5,1069.8 707.9,1083.7 723.2,1096.3 719.0,1111.6 731.6,1122.8 724.6,1132.5 707.9,1142.3 693.9,1154.9" fill="#b3b3b3" stroke="#7e7e7e" stroke-width="1.5"/>
<polygon points="460.9,1138.9 475.6,1129.1 485.4,1126.7 492.8,1134.0 506.3,1136.5 500.1,1145.1 502.6,1152.4 490.3,1153.7 487.9,1165.9 478.0,1168.4 463.3,1165.9 455.9,1163.5 453.5,1153.7 463.3,1148.8" fill="#e1e1e1" stroke="#7e7e7e" stroke-width="1.5"/>
<polyline points="490.3,1153.7 497.7,1151.2 508.7,1148.8 514.9,1156.1 513.6,1165.9 514.9,1178.2 511.2,1188.0 500.1,1193.0 487.9,1186.8 486.6,1173.3 490.3,1163.5 490.3,1153.7" fill="none" stroke="#7e7e7e" stroke-width="1.5"/>
<polyline points="514.9,1202.8 505.0,1210.1 487.9,1213.8 474.4,1221.2 455.9,1239.6 448.6,1258.0" fill="none" stroke="#7e7e7e" stroke-width="1.5"/>
<polyline points="545.6,1116.8 547.0,1125.0 553.0,1135.0 560.0,1143.0 571.0,1150.0" fill="none" stroke="#7e7e7e" stroke-width="1.5"/>
<polyline points="553.9,1288.8 545.5,1288.8 531.6,1298.6 526.0,1304.2 509.2,1302.8 500.9,1304.2 489.7,1294.4 478.5,1293.0 470.2,1300.0" fill="none" stroke="#7e7e7e" stroke-width="1.5"/>
<polyline points="567.8,1394.9 580.0,1397.0 588.4,1403.4 599.6,1396.7 605.2,1399.0 610.8,1405.7 609.7,1406.0" fill="none" stroke="#7e7e7e" stroke-width="1.5"/>
<polyline points="605.3,1376.7 606.9,1383.8 603.0,1391.6 599.6,1396.7" fill="none" stroke="#7e7e7e" stroke-width="1.5"/>
<polyline points="532.6,1471.5 540.4,1472.6 544.9,1487.1 546.0,1492.7 562.8,1490.5 570.6,1496.1 578.4,1507.2" fill="none" stroke="#7e7e7e" stroke-width="1.5"/>
<polyline points="355.5,1567.8 346.4,1584.4 341.9,1596.4 340.4,1614.5 326.8,1626.6 314.8,1634.1 305.7,1644.7 298.2,1649.2" fill="none" stroke="#7e7e7e" stroke-width="1.5"/>
<polygon points="271.1,1705.0 286.1,1698.9 305.7,1695.9 317.8,1694.4 323.8,1705.0 322.3,1720.0 317.8,1732.1 305.7,1739.6 292.2,1745.6 278.6,1739.6 268.1,1729.0 266.6,1717.0" fill="#b3b3b3" stroke="#7e7e7e" stroke-width="1.5"/>
<polygon points="616.9,1552.5 627.9,1558.8 623.2,1574.4 621.6,1586.9 616.9,1599.4 613.8,1611.9 607.6,1622.8 601.3,1630.6 599.8,1643.1 595.1,1644.7 591.9,1630.6 582.6,1622.8 576.3,1611.9 577.9,1596.3 585.7,1580.6 596.6,1566.6 607.6,1557.2" fill="#b3b3b3" stroke="#7e7e7e" stroke-width="1.5"/>
<polygon points="992.0,1270.0 952.3,1276.8 929.9,1276.8 903.1,1290.2 889.2,1298.6 871.9,1308.0 871.9,1317.0 889.7,1319.2 907.6,1312.5 929.9,1305.8 952.3,1301.3 992.0,1296.9" fill="#fff" stroke="#7e7e7e" stroke-width="1.5"/>
<polygon points="872.5,1319.5 861.3,1322.3 851.6,1330.7 839.0,1337.7 830.6,1337.7 837.6,1346.0 844.6,1355.8 847.4,1362.8 852.9,1368.3 851.6,1379.5 852.9,1390.7 865.5,1397.6 875.3,1393.5 886.4,1385.1 887.8,1371.1 894.8,1360.0 900.4,1346.0 897.6,1337.7 889.2,1334.9 892.0,1326.5 883.6,1320.9" fill="#fff" stroke="#7e7e7e" stroke-width="1.5"/>
<polygon points="912.0,1323.7 934.4,1312.5 970.0,1310.3 974.6,1319.2 961.2,1334.8 929.9,1343.8 916.5,1348.2" fill="#fff" stroke="#7e7e7e" stroke-width="1.5"/>
<polygon points="992.0,1299.0 979.0,1312.5 986.0,1321.4 992.0,1322.0" fill="#fff" stroke="#7e7e7e" stroke-width="1.5"/>
<polygon points="587.3,1762.0 590.4,1740.0 602.9,1733.8 616.9,1736.9 631.0,1740.0 637.3,1736.9 638.8,1746.3 634.1,1762.0" fill="#fff" stroke="#7e7e7e" stroke-width="1.5"/>
<ellipse cx="753.2" cy="1334.2" rx="10.5" ry="5" fill="#fff" stroke="#7e7e7e" stroke-width="1.5" transform="rotate(-15 753.2 1334.2)"/>
<ellipse cx="829" cy="1307" rx="3" ry="8" fill="#fff" stroke="#7e7e7e" stroke-width="1"/>
<ellipse cx="861.3" cy="1415.8" rx="5" ry="3.5" fill="#fff" stroke="#7e7e7e" stroke-width="1"/>
<ellipse cx="873.9" cy="1408.8" rx="2.5" ry="6" fill="#fff" stroke="#7e7e7e" stroke-width="1"/>
<ellipse cx="830.6" cy="1470.2" rx="6" ry="3" fill="#fff" stroke="#7e7e7e" stroke-width="1"/>
<ellipse cx="818" cy="1484" rx="2" ry="3" fill="#fff" stroke="#7e7e7e" stroke-width="1"/>
<ellipse cx="935.5" cy="1255.6" rx="2.5" ry="2" fill="#fff" stroke="#7e7e7e" stroke-width="1"/>
<ellipse cx="793" cy="1521" rx="7" ry="3" fill="#fff" stroke="#7e7e7e" stroke-width="1"/>
<ellipse cx="615.4" cy="1715" rx="2.5" ry="2" fill="#fff" stroke="#7e7e7e" stroke-width="1"/>
<ellipse cx="626.3" cy="1726" rx="2.5" ry="2" fill="#fff" stroke="#7e7e7e" stroke-width="1"/>
<ellipse cx="811" cy="1353" rx="4" ry="3" fill="#fff" stroke="#7e7e7e" stroke-width="1"/>
<line x1="609.1" y1="1672" x2="628.7" y2="1650.2" stroke="#3a3a3a" stroke-width="2"/>
<line x1="561.5" y1="1749.4" x2="574" y2="1725.2" stroke="#3a3a3a" stroke-width="2"/>
<line x1="649.8" y1="1577.5" x2="651.3" y2="1593" stroke="#3a3a3a" stroke-width="1.5"/>
<rect x="639.5" y="1050.9" width="12.4" height="68.4" fill="#ffaa00"/>
<polygon points="651.9,1050.9 654.9,1047.9 654.9,1116.3 651.9,1119.3" fill="#8a5a00"/>
<polygon points="639.5,1050.9 642.5,1047.9 654.9,1047.9 651.9,1050.9" fill="#9c6a00"/>
<rect x="464.5" y="1146.6" width="11.4" height="10.7" fill="#ffaa00"/>
<polygon points="475.9,1146.6 478.7,1143.8 478.7,1154.5 475.9,1157.3" fill="#8a5a00"/>
<polygon points="464.5,1146.6 467.3,1143.8 478.7,1143.8 475.9,1146.6" fill="#9c6a00"/>
<rect x="497.1" y="1168.7" width="11.3" height="8.9" fill="#ffaa00"/>
<polygon points="508.4,1168.7 511.2,1165.9 511.2,1174.8 508.4,1177.6" fill="#8a5a00"/>
<polygon points="497.1,1168.7 499.9,1165.9 511.2,1165.9 508.4,1168.7" fill="#9c6a00"/>
<rect x="519.8" y="1225.2" width="11.3" height="27.9" fill="#ffaa00"/>
<polygon points="531.1,1225.2 533.9,1222.4 533.9,1250.3 531.1,1253.1" fill="#8a5a00"/>
<polygon points="519.8,1225.2 522.6,1222.4 533.9,1222.4 531.1,1225.2" fill="#9c6a00"/>
<rect x="555.3" y="1318.6" width="10.6" height="25.3" fill="#ffaa00"/>
<polygon points="565.9,1318.6 568.5,1316.0 568.5,1341.3 565.9,1343.9" fill="#8a5a00"/>
<polygon points="555.3,1318.6 557.9,1316.0 568.5,1316.0 565.9,1318.6" fill="#9c6a00"/>
<rect x="609.7" y="1363.5" width="11.1" height="30.0" fill="#ffaa00"/>
<polygon points="620.8,1363.5 623.6,1360.7 623.6,1390.7 620.8,1393.5" fill="#8a5a00"/>
<polygon points="609.7,1363.5 612.5,1360.7 623.6,1360.7 620.8,1363.5" fill="#9c6a00"/>
<rect x="572.8" y="1430.7" width="10.7" height="17.3" fill="#ffaa00"/>
<polygon points="583.5,1430.7 586.2,1428.0 586.2,1445.3 583.5,1448.0" fill="#8a5a00"/>
<polygon points="572.8,1430.7 575.5,1428.0 586.2,1428.0 583.5,1430.7" fill="#9c6a00"/>
<rect x="514.6" y="1503.2" width="11.8" height="29.0" fill="#ffaa00"/>
<polygon points="526.4,1503.2 529.4,1500.2 529.4,1529.2 526.4,1532.2" fill="#8a5a00"/>
<polygon points="514.6,1503.2 517.6,1500.2 529.4,1500.2 526.4,1503.2" fill="#9c6a00"/>
<rect x="265.0" y="1556.4" width="11.5" height="37.0" fill="#ffaa00"/>
<polygon points="276.5,1556.4 279.4,1553.5 279.4,1590.5 276.5,1593.4" fill="#8a5a00"/>
<polygon points="265.0,1556.4 267.9,1553.5 279.4,1553.5 276.5,1556.4" fill="#9c6a00"/>
<rect x="390.9" y="1568.5" width="11.4" height="34.0" fill="#ffaa00"/>
<polygon points="402.3,1568.5 405.2,1565.6 405.2,1599.6 402.3,1602.5" fill="#8a5a00"/>
<polygon points="390.9,1568.5 393.8,1565.6 405.2,1565.6 402.3,1568.5" fill="#9c6a00"/>
<rect x="595.8" y="1579.5" width="11.3" height="16.8" fill="#ffaa00"/>
<polygon points="607.1,1579.5 609.9,1576.7 609.9,1593.5 607.1,1596.3" fill="#8a5a00"/>
<polygon points="595.8,1579.5 598.6,1576.7 609.9,1576.7 607.1,1579.5" fill="#9c6a00"/>
<rect x="291.4" y="1713.7" width="10.9" height="4.8" fill="#ffaa00"/>
<polygon points="302.3,1713.7 305.0,1711.0 305.0,1715.8 302.3,1718.5" fill="#8a5a00"/>
<polygon points="291.4,1713.7 294.1,1711.0 305.0,1711.0 302.3,1713.7" fill="#9c6a00"/>
<rect x="396.0" y="1634.8" width="12.0" height="3.2" fill="#a8700a"/>
<rect x="412.7" y="1625.4" width="13.3" height="3.2" fill="#a8700a"/>
<polygon points="906,1117.2 885.7,1185.5 906,1160.4 " fill="#000" stroke="#000" stroke-width="1.5" stroke-linejoin="miter"/>
<polygon points="906,1118.2 925.3,1184.5 906,1160.4 " fill="none" stroke="#000" stroke-width="2.1" stroke-linejoin="miter"/>
<text x="906.5" y="1110.5" font-size="28.5" text-anchor="middle" font-weight="normal" fill="#000" >N</text>
<rect x="747.7" y="1687.2" width="53.4" height="25.8" fill="#ffaa00"/>
<text x="819.0" y="1709.0" font-size="28" text-anchor="start" font-weight="normal" fill="#111" >SOC stock</text>
<text x="657.3" y="1092.5" font-size="25" text-anchor="start" font-weight="normal" fill="#161616" >Liaoning</text>
<text x="667.8" y="1123.0" font-size="25" text-anchor="start" font-weight="normal" fill="#161616" >11.42 Tg</text>
<text x="400.1" y="1138.3" font-size="25" text-anchor="start" font-weight="normal" fill="#161616" >Hebei</text>
<text x="378.0" y="1171.0" font-size="25" text-anchor="start" font-weight="normal" fill="#161616" >1.83 Tg</text>
<text x="521.8" y="1150.7" font-size="25" text-anchor="start" font-weight="normal" fill="#161616" >Tianjin</text>
<text x="527.4" y="1180.7" font-size="25" text-anchor="start" font-weight="normal" fill="#161616" >1.69 Tg</text>
<text x="546.9" y="1206.5" font-size="25" text-anchor="start" font-weight="normal" fill="#161616" >Shandong</text>
<text x="560.9" y="1249.0" font-size="25" text-anchor="start" font-weight="normal" fill="#161616" >4.64 Tg</text>
<text x="581.2" y="1290.5" font-size="25" text-anchor="start" font-weight="normal" fill="#161616" >Jiangsu</text>
<text x="587.2" y="1319.5" font-size="25" text-anchor="start" font-weight="normal" fill="#161616" >4.19 Tg</text>
<text x="637.3" y="1360.0" font-size="25" text-anchor="start" font-weight="normal" fill="#161616" >Shanghai</text>
<text x="651.3" y="1391.6" font-size="25" text-anchor="start" font-weight="normal" fill="#161616" >9.44 Tg</text>
<text x="608.7" y="1429.2" font-size="25" text-anchor="start" font-weight="normal" fill="#161616" >Zhejiang</text>
<text x="613.7" y="1457.7" font-size="25" text-anchor="start" font-weight="normal" fill="#161616" >2.68 Tg</text>
<text x="540.4" y="1511.1" font-size="25" text-anchor="start" font-weight="normal" fill="#161616" >Fujian</text>
<text x="539.6" y="1537.7" font-size="25" text-anchor="start" font-weight="normal" fill="#161616" >4.91 Tg</text>
<text x="283.9" y="1561.8" font-size="25" text-anchor="start" font-weight="normal" fill="#161616" >Guangxi</text>
<text x="289.2" y="1594.2" font-size="25" text-anchor="start" font-weight="normal" fill="#161616" >6.54 Tg</text>
<text x="416.9" y="1565.0" font-size="25" text-anchor="start" font-weight="normal" fill="#161616" >Guangdong</text>
<text x="432.6" y="1593.1" font-size="25" text-anchor="start" font-weight="normal" fill="#161616" >5.76 Tg</text>
<text x="322.3" y="1631.9" font-size="25" text-anchor="start" font-weight="normal" fill="#161616" >Macao</text>
<text x="325.3" y="1665.0" font-size="25" text-anchor="start" font-weight="normal" fill="#161616" >&lt; 0.1 Tg</text>
<text x="438.8" y="1616.6" font-size="25" text-anchor="start" font-weight="normal" fill="#161616" >Hong Kong</text>
<text x="455.2" y="1648.6" font-size="25" text-anchor="start" font-weight="normal" fill="#161616" >&lt; 0.1 Tg</text>
<text x="624.8" y="1577.5" font-size="25" text-anchor="start" font-weight="normal" fill="#161616" >Taiwan</text>
<text x="619.3" y="1611.1" font-size="25" text-anchor="start" font-weight="normal" fill="#161616" >2.67 Tg</text>
<text x="314.8" y="1710.2" font-size="25" text-anchor="start" font-weight="normal" fill="#161616" >Hainan</text>
<text x="319.3" y="1736.6" font-size="25" text-anchor="start" font-weight="normal" fill="#161616" >0.91 Tg</text>
</g>
<rect x="146.1" y="1008.7" width="841.5" height="751.2" fill="none" stroke="#484848" stroke-width="2.6"/>
<line x1="304.1" y1="1008.7" x2="304.1" y2="1001.7" stroke="#484848" stroke-width="2"/>
<text x="304.1" y="999.9" font-size="22.3" text-anchor="middle" font-weight="normal" fill="#383838" >110°0'0"E</text>
<line x1="575.2" y1="1008.7" x2="575.2" y2="1001.7" stroke="#484848" stroke-width="2"/>
<text x="575.2" y="999.9" font-size="22.3" text-anchor="middle" font-weight="normal" fill="#383838" >120°0'0"E</text>
<line x1="846.7" y1="1008.7" x2="846.7" y2="1001.7" stroke="#484848" stroke-width="2"/>
<text x="846.7" y="999.9" font-size="22.3" text-anchor="middle" font-weight="normal" fill="#383838" >130°0'0"E</text>
<line x1="146.1" y1="1154.5" x2="137.1" y2="1154.5" stroke="#484848" stroke-width="2"/>
<text x="138.4" y="1154.5" font-size="22.3" text-anchor="middle" fill="#383838" transform="rotate(-90 138.4 1154.5)">40°0'0"N</text>
<line x1="146.1" y1="1425.2" x2="137.1" y2="1425.2" stroke="#484848" stroke-width="2"/>
<text x="138.4" y="1425.2" font-size="22.3" text-anchor="middle" fill="#383838" transform="rotate(-90 138.4 1425.2)">30°0'0"N</text>
<line x1="146.1" y1="1696.7" x2="137.1" y2="1696.7" stroke="#484848" stroke-width="2"/>
<text x="138.4" y="1696.7" font-size="22.3" text-anchor="middle" fill="#383838" transform="rotate(-90 138.4 1696.7)">20°0'0"N</text>
<text x="68.5" y="986.1" font-size="59" text-anchor="start" font-weight="bold" fill="#000" letter-spacing="2.5">(c)</text>
<g clip-path="url(#cd)" transform="translate(1035.36 17.81) scale(0.9873)">
<rect x="146.1" y="1008.7" width="841.5" height="751.2" fill="#bde8fe"/>
<polygon points="140.0,1000.0 995.0,1000.0 992.0,1059.2 952.3,1073.7 929.9,1080.4 912.1,1067.0 900.9,1064.7 889.8,1075.9 867.4,1084.8 866.9,1086.5 861.3,1092.0 847.4,1100.4 839.0,1110.2 839.0,1128.3 822.3,1139.5 791.6,1153.5 780.4,1160.4 776.2,1174.4 791.6,1184.2 802.7,1191.1 813.9,1209.3 827.8,1230.2 832.0,1250.0 834.8,1262.3 830.6,1277.7 822.3,1286.0 811.1,1297.2 812.5,1291.6 805.5,1287.4 791.6,1293.0 777.6,1295.8 763.7,1301.4 752.5,1308.4 744.1,1304.2 752.5,1298.6 749.7,1290.2 748.3,1280.5 755.3,1274.9 752.5,1270.7 760.9,1262.3 752.5,1256.7 749.7,1248.4 741.3,1242.8 746.9,1240.0 763.7,1237.2 755.3,1226.0 756.7,1214.8 744.1,1213.5 730.2,1209.3 713.4,1209.3 703.7,1205.0 709.2,1195.3 727.4,1191.1 714.8,1188.3 720.4,1175.8 723.2,1167.4 707.9,1163.2 699.5,1160.4 693.9,1154.9 685.5,1160.4 671.0,1159.0 650.0,1164.6 629.2,1175.8 605.5,1187.0 612.5,1184.0 618.0,1175.8 609.7,1170.2 615.3,1161.8 629.2,1150.7 634.8,1138.0 623.6,1129.7 604.1,1134.0 593.0,1142.3 573.4,1152.0 559.5,1163.0 545.5,1173.0 533.3,1177.0 519.8,1178.2 512.4,1189.3 513.6,1195.4 517.3,1201.5 527.2,1204.0 544.3,1205.2 548.2,1211.0 555.1,1215.1 547.5,1220.5 546.8,1227.4 556.4,1232.2 567.4,1231.5 572.2,1226.0 582.5,1217.1 594.8,1213.0 601.6,1215.8 611.9,1219.9 618.8,1223.3 632.5,1220.5 639.3,1223.3 648.2,1224.7 644.8,1230.8 643.4,1235.6 629.0,1238.4 615.3,1241.1 605.8,1244.5 599.6,1249.3 594.8,1256.8 587.9,1260.3 581.1,1261.6 574.2,1268.5 567.4,1274.0 557.1,1282.2 553.7,1289.0 555.3,1295.8 573.4,1302.8 584.6,1312.5 591.5,1329.3 599.9,1346.0 604.1,1355.8 612.5,1361.4 623.6,1365.6 623.6,1372.5 626.4,1393.5 627.8,1399.0 623.6,1404.6 609.7,1406.0 618.0,1414.4 628.6,1420.0 628.6,1432.5 624.2,1442.5 618.6,1455.9 614.1,1469.3 606.3,1480.4 596.3,1488.3 588.4,1496.1 582.9,1508.4 573.9,1519.5 563.9,1536.3 553.8,1545.2 544.9,1556.3 534.9,1565.3 527.1,1574.2 518.5,1582.2 506.0,1594.7 496.4,1597.8 489.6,1601.9 475.9,1617.0 462.2,1618.4 455.3,1621.1 448.5,1618.4 438.2,1622.5 432.1,1621.1 424.5,1627.9 418.4,1634.8 412.9,1633.4 410.1,1627.9 404.7,1622.5 402.6,1622.5 397.1,1638.9 390.3,1643.7 380.0,1644.4 364.5,1650.7 349.4,1655.2 334.4,1656.7 322.3,1658.2 310.3,1664.3 313.3,1671.8 317.8,1682.3 311.8,1688.4 299.7,1688.4 295.2,1676.3 296.7,1665.8 298.2,1652.2 290.7,1652.2 278.6,1650.7 263.5,1646.2 245.5,1652.2 230.4,1662.7 215.3,1670.3 210.8,1680.8 206.3,1689.9 194.2,1698.9 188.2,1714.0 185.2,1723.0 195.7,1735.1 206.3,1747.1 207.8,1762.0 140.0,1765.0" fill="#fff" stroke="#7e7e7e" stroke-width="1.5"/>
<polygon points="140.0,1103.9 155.0,1104.0 155.8,1109.5 167.0,1111.0 174.0,1107.4 213.0,1092.0 233.9,1087.9 271.6,1089.3 299.5,1083.7 313.4,1079.5 333.0,1064.0 355.3,1053.0 341.3,1035.6 348.3,1022.3 358.0,1016.0 370.6,1017.4 377.6,1022.3 401.3,1025.8 426.0,1011.2 432.0,1004.0 894.8,1004.0 894.8,1009.8 875.3,1022.3 879.4,1041.9 882.2,1060.0 878.0,1071.2 866.9,1078.1 866.9,1086.5 861.3,1082.3 855.7,1078.1 844.6,1072.5 827.8,1086.5 819.5,1094.9 794.3,1100.4 799.9,1111.6 787.4,1115.8 772.0,1113.0 762.3,1106.0 744.1,1121.4 731.6,1132.5 712.0,1140.9 693.9,1154.9 685.5,1160.4 671.0,1159.0 650.0,1164.6 629.2,1175.8 605.5,1187.0 612.5,1184.0 618.0,1175.8 609.7,1170.2 615.3,1161.8 629.2,1150.7 634.8,1138.0 623.6,1129.7 604.1,1134.0 593.0,1142.3 573.4,1152.0 559.5,1163.0 545.5,1173.0 533.3,1177.0 519.8,1178.2 512.4,1189.3 513.6,1195.4 517.3,1201.5 527.2,1204.0 544.3,1205.2 548.2,1211.0 555.1,1215.1 547.5,1220.5 546.8,1227.4 556.4,1232.2 567.4,1231.5 572.2,1226.0 582.5,1217.1 594.8,1213.0 601.6,1215.8 611.9,1219.9 618.8,1223.3 632.5,1220.5 639.3,1223.3 648.2,1224.7 644.8,1230.8 643.4,1235.6 629.0,1238.4 615.3,1241.1 605.8,1244.5 599.6,1249.3 594.8,1256.8 587.9,1260.3 581.1,1261.6 574.2,1268.5 567.4,1274.0 557.1,1282.2 553.7,1289.0 555.3,1295.8 573.4,1302.8 584.6,1312.5 591.5,1329.3 599.9,1346.0 604.1,1355.8 612.5,1361.4 623.6,1365.6 623.6,1372.5 626.4,1393.5 627.8,1399.0 623.6,1404.6 609.7,1406.0 618.0,1414.4 628.6,1420.0 628.6,1432.5 624.2,1442.5 618.6,1455.9 614.1,1469.3 606.3,1480.4 596.3,1488.3 588.4,1496.1 582.9,1508.4 573.9,1519.5 563.9,1536.3 553.8,1545.2 544.9,1556.3 534.9,1565.3 527.1,1574.2 518.5,1582.2 506.0,1594.7 496.4,1597.8 489.6,1601.9 475.9,1617.0 462.2,1618.4 455.3,1621.1 448.5,1618.4 438.2,1622.5 432.1,1621.1 424.5,1627.9 418.4,1634.8 412.9,1633.4 410.1,1627.9 404.7,1622.5 402.6,1622.5 397.1,1638.9 390.3,1643.7 380.0,1644.4 364.5,1650.7 349.4,1655.2 334.4,1656.7 322.3,1658.2 310.3,1664.3 313.3,1671.8 317.8,1682.3 311.8,1688.4 299.7,1688.4 295.2,1676.3 296.7,1665.8 298.2,1652.2 290.7,1652.2 278.6,1650.7 263.5,1646.2 245.5,1652.2 230.4,1646.2 215.3,1643.2 210.8,1632.6 213.8,1620.6 198.7,1611.5 182.2,1608.5 176.1,1607.0 165.6,1611.5 158.1,1617.5 146.0,1622.0 140.0,1622.0" fill="#e1e1e1" stroke="#7e7e7e" stroke-width="1.5"/>
<polygon points="897.6,1008.0 931.0,1008.0 932.2,1016.7 915.0,1014.0 898.7,1009.5" fill="#e1e1e1" stroke="#7e7e7e" stroke-width="1"/>
<polyline points="146.0,1224.4 155.8,1222.4 170.5,1218.5 185.1,1214.6 189.1,1210.7 190.0,1200.9 192.0,1189.1 195.9,1181.3 202.8,1173.5 214.5,1171.0 218.4,1174.5 221.3,1180.3 214.5,1189.1 211.6,1197.9 208.6,1200.4 222.3,1204.8 227.2,1203.8 236.0,1209.7 239.9,1211.6" fill="none" stroke="#7e7e7e" stroke-width="1.5"/>
<polyline points="239.9,1211.6 249.7,1216.5 251.7,1218.5 270.3,1217.5 272.2,1207.7 278.1,1208.7 275.2,1200.9 284.9,1191.1 296.7,1179.4 301.6,1174.5 307.4,1169.6 321.2,1173.5 334.8,1166.6 346.0,1163.7 355.3,1164.7 369.2,1146.5 383.2,1145.1 405.6,1140.2" fill="none" stroke="#7e7e7e" stroke-width="1.5"/>
<polyline points="334.8,1166.6 335.8,1173.5 330.9,1181.3 329.0,1192.1 318.2,1201.9 318.2,1209.7 324.1,1218.5 322.1,1226.3 314.3,1235.1 315.3,1243.9 316.3,1257.6 320.2,1273.3 311.4,1291.9 311.4,1299.7 314.3,1310.0 320.4,1318.1 330.2,1330.7 331.5,1337.7 319.0,1340.4 291.1,1339.0 306.4,1351.6 292.5,1360.0 292.5,1379.5" fill="none" stroke="#7e7e7e" stroke-width="1.5"/>
<polyline points="239.9,1211.6 232.1,1216.5 229.2,1226.3 230.1,1236.1 243.8,1241.0 253.6,1246.9 265.4,1251.8 268.3,1259.6 263.4,1267.4 265.4,1280.1 243.8,1282.1 240.9,1284.1 244.8,1289.9 228.2,1292.9 220.4,1287.0 209.6,1288.0 208.6,1294.8 204.7,1300.7 213.0,1308.4 207.4,1320.9 210.2,1329.3 192.0,1329.3 187.9,1334.9 193.4,1340.4 192.0,1346.0 179.5,1347.4 171.1,1354.4 146.0,1347.4" fill="none" stroke="#7e7e7e" stroke-width="1.5"/>
<polyline points="229.2,1232.2 211.6,1232.2 212.5,1238.1 205.7,1247.8 208.6,1255.7 219.4,1257.6 220.4,1267.4 213.5,1271.3 207.6,1272.3 206.7,1281.1 203.7,1283.1 194.9,1276.2 187.1,1270.4 177.3,1266.4 180.2,1257.6 174.4,1243.9 175.4,1241.0 165.6,1234.1 157.7,1227.3 148.0,1224.4" fill="none" stroke="#7e7e7e" stroke-width="1.5"/>
<polyline points="179.5,1347.4 194.8,1348.8 206.0,1354.4 224.1,1351.6 226.9,1358.6 243.7,1362.8 249.2,1367.0 261.8,1364.2 284.1,1378.1 293.9,1378.1 307.8,1390.7 307.8,1401.8 300.9,1401.8 286.9,1411.6 263.2,1411.6 260.4,1429.7 266.0,1432.5 277.1,1442.3 284.1,1447.9 282.7,1463.2 288.3,1490.0 290.0,1510.0 287.7,1515.0 284.6,1524.1 289.2,1534.7" fill="none" stroke="#7e7e7e" stroke-width="1.5"/>
<polyline points="261.8,1365.6 263.2,1378.1 252.0,1392.0 246.4,1403.2 235.3,1404.6 224.1,1422.8 214.4,1424.2 207.4,1417.2 189.2,1414.4 183.7,1421.4 186.5,1429.7 176.7,1438.1 186.5,1446.5 190.6,1453.4 204.6,1461.8 210.2,1464.6 225.5,1454.8 235.3,1447.9 256.2,1450.7 260.4,1461.8 268.8,1474.4 278.5,1474.4 284.1,1459.0" fill="none" stroke="#7e7e7e" stroke-width="1.5"/>
<polyline points="146.0,1463.2 153.0,1474.4 168.3,1477.2 173.9,1487.0 185.0,1500.0 200.0,1503.0 203.2,1485.5 201.8,1477.2 185.0,1468.8" fill="none" stroke="#7e7e7e" stroke-width="1.5"/>
<polyline points="146.0,1516.6 156.5,1519.6 158.1,1525.6 150.5,1530.1 149.0,1542.2 156.5,1551.2 161.0,1557.3 155.0,1564.8 153.5,1570.8" fill="none" stroke="#7e7e7e" stroke-width="1.5"/>
<polyline points="330.2,1337.7 344.1,1354.4 366.4,1361.4 390.1,1360.0 404.1,1361.4 408.3,1375.3 426.9,1378.1 442.3,1383.7 450.6,1387.9 464.6,1396.3 460.4,1407.4 466.0,1418.6 470.2,1429.7 484.1,1425.6 486.9,1435.3 496.7,1431.1 506.4,1438.1 522.6,1447.0" fill="none" stroke="#7e7e7e" stroke-width="1.5"/>
<polyline points="313.4,1300.0 341.3,1294.4 359.4,1281.9 383.2,1281.9 401.3,1272.1 404.1,1254.0 398.2,1244.5" fill="none" stroke="#7e7e7e" stroke-width="1.5"/>
<polyline points="317.6,1422.8 327.4,1422.8 351.1,1427.0 366.4,1438.1 383.2,1432.5 388.7,1439.5 399.9,1429.7 405.5,1449.3 414.4,1446.5 436.7,1440.9 442.3,1435.3 470.2,1429.7" fill="none" stroke="#7e7e7e" stroke-width="1.5"/>
<polyline points="317.6,1422.8 320.4,1432.5 313.4,1434.0 298.1,1431.1 285.5,1440.9 284.1,1447.9" fill="none" stroke="#7e7e7e" stroke-width="1.5"/>
<polyline points="411.0,1452.0 414.4,1457.6 417.2,1473.0 410.0,1490.0 408.2,1500.0 411.2,1515.0 412.7,1531.6 417.2,1534.7 411.2,1545.2 413.5,1552.9" fill="none" stroke="#7e7e7e" stroke-width="1.5"/>
<polyline points="271.1,1504.5 286.1,1504.5 288.3,1490.0" fill="none" stroke="#7e7e7e" stroke-width="1.5"/>
<polyline points="463.2,1357.2 464.6,1374.0 450.6,1386.5" fill="none" stroke="#7e7e7e" stroke-width="1.5"/>
<polyline points="463.2,1357.2 454.8,1358.6 442.3,1346.0 436.7,1343.2 447.9,1332.0 454.8,1316.7 467.4,1321.0 481.3,1318.0 484.1,1319.5 481.3,1311.1" fill="none" stroke="#7e7e7e" stroke-width="1.5"/>
<polyline points="632.0,1008.0 632.0,1028.0 637.6,1039.0 660.0,1033.5 667.0,1053.0 675.2,1062.8 678.6,1060.0" fill="none" stroke="#7e7e7e" stroke-width="1.5"/>
<polyline points="740.0,1008.0 760.0,1010.0 770.0,1012.0" fill="none" stroke="#7e7e7e" stroke-width="1.5"/>
<polyline points="740.0,1010.0 770.0,1012.0 772.0,1030.0 786.0,1036.0 790.0,1046.0 803.0,1044.0 812.0,1033.0 828.0,1040.0 832.0,1058.0 847.0,1060.0 868.0,1052.0 878.0,1060.0 882.0,1060.0" fill="none" stroke="#7e7e7e" stroke-width="1.5"/>
<polygon points="693.9,1154.9 685.5,1160.4 671.0,1159.0 650.0,1164.6 629.2,1175.8 605.5,1187.0 612.5,1184.0 618.0,1175.8 609.7,1170.2 615.3,1161.8 629.2,1150.7 634.8,1138.0 623.6,1129.7 604.1,1134.0 593.0,1142.3 573.4,1152.0 559.5,1163.0 545.5,1173.0 533.3,1177.0 519.8,1178.2 512.4,1189.3 513.6,1195.4 517.3,1201.5 527.2,1204.0 544.3,1205.2 548.2,1211.0 555.1,1215.1 547.5,1220.5 546.8,1227.4 556.4,1232.2 567.4,1231.5 572.2,1226.0 582.5,1217.1 594.8,1213.0 601.6,1215.8 611.9,1219.9 618.8,1223.3 632.5,1220.5 639.3,1223.3 648.2,1224.7 644.8,1230.8 643.4,1235.6 629.0,1238.4 615.3,1241.1 605.8,1244.5 599.6,1249.3 594.8,1256.8 587.9,1260.3 581.1,1261.6 574.2,1268.5 567.4,1274.0 557.1,1282.2 553.7,1289.0 555.3,1295.8 573.4,1302.8 584.6,1312.5 591.5,1329.3 599.9,1346.0 604.1,1355.8 612.5,1361.4 623.6,1365.6 623.6,1372.5 626.4,1393.5 627.8,1399.0 623.6,1404.6 609.7,1406.0 618.0,1414.4 628.6,1420.0 628.6,1432.5 624.2,1442.5 618.6,1455.9 614.1,1469.3 606.3,1480.4 596.3,1488.3 588.4,1496.1 582.9,1508.4 573.9,1519.5 563.9,1536.3 553.8,1545.2 544.9,1556.3 534.9,1565.3 527.1,1574.2 518.5,1582.2 506.0,1594.7 496.4,1597.8 489.6,1601.9 475.9,1617.0 462.2,1618.4 455.3,1621.1 448.5,1618.4 438.2,1622.5 432.1,1621.1 424.5,1627.9 418.4,1634.8 412.9,1633.4 410.1,1627.9 404.7,1622.5 402.6,1622.5 397.1,1638.9 390.3,1643.7 380.0,1644.4 364.5,1650.7 349.4,1655.2 334.4,1656.7 322.3,1658.2 310.3,1664.3 313.3,1671.8 317.8,1682.3 311.8,1688.4 299.7,1688.4 295.2,1676.3 296.7,1665.8 298.2,1652.2 290.7,1652.2 278.6,1650.7 263.5,1646.2 245.5,1652.2 230.4,1646.2 215.3,1643.2 210.8,1632.6 213.8,1620.6 198.7,1611.5 182.2,1608.5 186.7,1604.0 198.7,1599.5 198.7,1590.4 189.7,1587.4 176.1,1588.9 173.1,1581.4 158.1,1576.9 153.5,1570.8 161.0,1566.3 173.1,1561.8 185.2,1564.8 198.7,1569.3 200.2,1560.3 213.8,1552.7 227.4,1545.2 239.4,1554.2 251.5,1552.7 260.5,1546.7 274.1,1542.2 287.7,1534.7 299.7,1530.1 308.7,1528.6 320.8,1525.6 329.8,1524.1 340.4,1536.2 343.4,1548.2 337.4,1557.3 347.9,1564.8 357.0,1567.8 366.0,1561.8 378.1,1555.8 381.8,1552.9 391.7,1547.0 400.6,1551.1 408.2,1550.5 413.5,1552.9 416.4,1568.7 424.0,1574.0 435.8,1571.7 450.5,1567.0 461.0,1572.3 466.3,1549.4 469.3,1537.6 476.3,1525.9 481.0,1520.0 481.3,1511.7 489.1,1503.9 495.8,1497.2 494.7,1490.5 502.5,1483.8 512.5,1480.4 524.8,1474.9 532.6,1471.5 532.6,1462.6 524.8,1454.8 522.6,1447.0 527.1,1440.3 538.2,1433.6 543.8,1426.9 544.9,1417.9 553.8,1415.7 555.0,1411.2 561.7,1405.7 563.9,1395.6 557.2,1393.4 541.6,1391.2 542.7,1386.7 538.5,1379.5 531.6,1372.5 535.7,1365.6 538.5,1357.2 551.1,1357.2 552.5,1350.2 545.5,1346.0 539.9,1350.2 528.8,1347.4 521.8,1337.7 524.6,1329.3 513.4,1323.7 495.3,1312.5 481.3,1311.1 475.8,1305.6 470.2,1300.0 452.0,1298.6 438.0,1290.2 433.8,1288.7 438.8,1278.9 453.3,1270.0 450.3,1258.7 438.3,1260.7 425.2,1256.7 404.1,1252.7 398.1,1243.6 405.1,1233.6 409.2,1224.5 414.2,1216.5 408.2,1209.5 399.1,1200.4 400.1,1192.4 405.1,1183.4 412.2,1178.4 424.2,1175.3 426.2,1166.3 426.2,1146.2 420.0,1142.0 414.0,1135.0 408.2,1124.1 409.2,1115.1 417.2,1112.1 418.2,1105.1 426.2,1096.0 436.3,1098.0 436.3,1110.1 448.3,1109.1 464.4,1102.0 470.7,1104.6 487.9,1094.7 492.8,1087.4 507.5,1083.7 517.3,1084.9 527.2,1098.4 529.6,1108.2 532.1,1116.8 545.6,1116.8 555.4,1091.0 561.5,1089.8 570.6,1097.7 577.6,1106.0 594.3,1094.9 627.8,1082.3 640.4,1078.1 654.3,1078.1 673.9,1072.5 678.6,1060.0 693.9,1071.2 706.5,1069.8 707.9,1083.7 723.2,1096.3 719.0,1111.6 731.6,1122.8 724.6,1132.5 707.9,1142.3 693.9,1154.9" fill="#b3b3b3" stroke="#7e7e7e" stroke-width="1.5"/>
<polygon points="460.9,1138.9 475.6,1129.1 485.4,1126.7 492.8,1134.0 506.3,1136.5 500.1,1145.1 502.6,1152.4 490.3,1153.7 487.9,1165.9 478.0,1168.4 463.3,1165.9 455.9,1163.5 453.5,1153.7 463.3,1148.8" fill="#e1e1e1" stroke="#7e7e7e" stroke-width="1.5"/>
<polyline points="490.3,1153.7 497.7,1151.2 508.7,1148.8 514.9,1156.1 513.6,1165.9 514.9,1178.2 511.2,1188.0 500.1,1193.0 487.9,1186.8 486.6,1173.3 490.3,1163.5 490.3,1153.7" fill="none" stroke="#7e7e7e" stroke-width="1.5"/>
<polyline points="514.9,1202.8 505.0,1210.1 487.9,1213.8 474.4,1221.2 455.9,1239.6 448.6,1258.0" fill="none" stroke="#7e7e7e" stroke-width="1.5"/>
<polyline points="545.6,1116.8 547.0,1125.0 553.0,1135.0 560.0,1143.0 571.0,1150.0" fill="none" stroke="#7e7e7e" stroke-width="1.5"/>
<polyline points="553.9,1288.8 545.5,1288.8 531.6,1298.6 526.0,1304.2 509.2,1302.8 500.9,1304.2 489.7,1294.4 478.5,1293.0 470.2,1300.0" fill="none" stroke="#7e7e7e" stroke-width="1.5"/>
<polyline points="567.8,1394.9 580.0,1397.0 588.4,1403.4 599.6,1396.7 605.2,1399.0 610.8,1405.7 609.7,1406.0" fill="none" stroke="#7e7e7e" stroke-width="1.5"/>
<polyline points="605.3,1376.7 606.9,1383.8 603.0,1391.6 599.6,1396.7" fill="none" stroke="#7e7e7e" stroke-width="1.5"/>
<polyline points="532.6,1471.5 540.4,1472.6 544.9,1487.1 546.0,1492.7 562.8,1490.5 570.6,1496.1 578.4,1507.2" fill="none" stroke="#7e7e7e" stroke-width="1.5"/>
<polyline points="355.5,1567.8 346.4,1584.4 341.9,1596.4 340.4,1614.5 326.8,1626.6 314.8,1634.1 305.7,1644.7 298.2,1649.2" fill="none" stroke="#7e7e7e" stroke-width="1.5"/>
<polygon points="271.1,1705.0 286.1,1698.9 305.7,1695.9 317.8,1694.4 323.8,1705.0 322.3,1720.0 317.8,1732.1 305.7,1739.6 292.2,1745.6 278.6,1739.6 268.1,1729.0 266.6,1717.0" fill="#b3b3b3" stroke="#7e7e7e" stroke-width="1.5"/>
<polygon points="616.9,1552.5 627.9,1558.8 623.2,1574.4 621.6,1586.9 616.9,1599.4 613.8,1611.9 607.6,1622.8 601.3,1630.6 599.8,1643.1 595.1,1644.7 591.9,1630.6 582.6,1622.8 576.3,1611.9 577.9,1596.3 585.7,1580.6 596.6,1566.6 607.6,1557.2" fill="#b3b3b3" stroke="#7e7e7e" stroke-width="1.5"/>
<polygon points="992.0,1270.0 952.3,1276.8 929.9,1276.8 903.1,1290.2 889.2,1298.6 871.9,1308.0 871.9,1317.0 889.7,1319.2 907.6,1312.5 929.9,1305.8 952.3,1301.3 992.0,1296.9" fill="#fff" stroke="#7e7e7e" stroke-width="1.5"/>
<polygon points="872.5,1319.5 861.3,1322.3 851.6,1330.7 839.0,1337.7 830.6,1337.7 837.6,1346.0 844.6,1355.8 847.4,1362.8 852.9,1368.3 851.6,1379.5 852.9,1390.7 865.5,1397.6 875.3,1393.5 886.4,1385.1 887.8,1371.1 894.8,1360.0 900.4,1346.0 897.6,1337.7 889.2,1334.9 892.0,1326.5 883.6,1320.9" fill="#fff" stroke="#7e7e7e" stroke-width="1.5"/>
<polygon points="912.0,1323.7 934.4,1312.5 970.0,1310.3 974.6,1319.2 961.2,1334.8 929.9,1343.8 916.5,1348.2" fill="#fff" stroke="#7e7e7e" stroke-width="1.5"/>
<polygon points="992.0,1299.0 979.0,1312.5 986.0,1321.4 992.0,1322.0" fill="#fff" stroke="#7e7e7e" stroke-width="1.5"/>
<polygon points="587.3,1762.0 590.4,1740.0 602.9,1733.8 616.9,1736.9 631.0,1740.0 637.3,1736.9 638.8,1746.3 634.1,1762.0" fill="#fff" stroke="#7e7e7e" stroke-width="1.5"/>
<ellipse cx="753.2" cy="1334.2" rx="10.5" ry="5" fill="#fff" stroke="#7e7e7e" stroke-width="1.5" transform="rotate(-15 753.2 1334.2)"/>
<ellipse cx="829" cy="1307" rx="3" ry="8" fill="#fff" stroke="#7e7e7e" stroke-width="1"/>
<ellipse cx="861.3" cy="1415.8" rx="5" ry="3.5" fill="#fff" stroke="#7e7e7e" stroke-width="1"/>
<ellipse cx="873.9" cy="1408.8" rx="2.5" ry="6" fill="#fff" stroke="#7e7e7e" stroke-width="1"/>
<ellipse cx="830.6" cy="1470.2" rx="6" ry="3" fill="#fff" stroke="#7e7e7e" stroke-width="1"/>
<ellipse cx="818" cy="1484" rx="2" ry="3" fill="#fff" stroke="#7e7e7e" stroke-width="1"/>
<ellipse cx="935.5" cy="1255.6" rx="2.5" ry="2" fill="#fff" stroke="#7e7e7e" stroke-width="1"/>
<ellipse cx="793" cy="1521" rx="7" ry="3" fill="#fff" stroke="#7e7e7e" stroke-width="1"/>
<ellipse cx="615.4" cy="1715" rx="2.5" ry="2" fill="#fff" stroke="#7e7e7e" stroke-width="1"/>
<ellipse cx="626.3" cy="1726" rx="2.5" ry="2" fill="#fff" stroke="#7e7e7e" stroke-width="1"/>
<ellipse cx="811" cy="1353" rx="4" ry="3" fill="#fff" stroke="#7e7e7e" stroke-width="1"/>
<line x1="609.1" y1="1672" x2="628.7" y2="1650.2" stroke="#3a3a3a" stroke-width="2"/>
<line x1="561.5" y1="1749.4" x2="574" y2="1725.2" stroke="#3a3a3a" stroke-width="2"/>
</g>
<line x1="1675.7" y1="1580.8" x2="1678" y2="1595" stroke="#3a3a3a" stroke-width="1.5"/>
<rect x="1667.1" y="1104.7" width="11.0" height="17.9" fill="#ffaa00"/>
<polygon points="1678.1,1104.7 1680.8,1102.0 1680.8,1119.9 1678.1,1122.6" fill="#8a5a00"/>
<polygon points="1667.1,1104.7 1669.8,1102.0 1680.8,1102.0 1678.1,1104.7" fill="#9c6a00"/>
<rect x="1493.9" y="1130.2" width="11.0" height="23.7" fill="#ffaa00"/>
<polygon points="1504.9,1130.2 1507.6,1127.5 1507.6,1151.2 1504.9,1153.9" fill="#8a5a00"/>
<polygon points="1493.9,1130.2 1496.6,1127.5 1507.6,1127.5 1504.9,1130.2" fill="#9c6a00"/>
<rect x="1526.2" y="1172.3" width="11.0" height="13.9" fill="#ffaa00"/>
<polygon points="1537.2,1172.3 1539.9,1169.6 1539.9,1183.5 1537.2,1186.2" fill="#8a5a00"/>
<polygon points="1526.2,1172.3 1528.9,1169.6 1539.9,1169.6 1537.2,1172.3" fill="#9c6a00"/>
<rect x="1547.7" y="1192.1" width="11.8" height="62.6" fill="#ffaa00"/>
<polygon points="1559.5,1192.1 1562.4,1189.2 1562.4,1251.8 1559.5,1254.7" fill="#8a5a00"/>
<polygon points="1547.7,1192.1 1550.6,1189.2 1562.4,1189.2 1559.5,1192.1" fill="#9c6a00"/>
<rect x="1583.0" y="1260.4" width="11.0" height="63.8" fill="#ffaa00"/>
<polygon points="1594.0,1260.4 1596.7,1257.7 1596.7,1321.5 1594.0,1324.2" fill="#8a5a00"/>
<polygon points="1583.0,1260.4 1585.7,1257.7 1596.7,1257.7 1594.0,1260.4" fill="#9c6a00"/>
<rect x="1637.8" y="1364.1" width="11.0" height="39.3" fill="#ffaa00"/>
<polygon points="1648.8,1364.1 1651.5,1361.4 1651.5,1400.7 1648.8,1403.4" fill="#8a5a00"/>
<polygon points="1637.8,1364.1 1640.5,1361.4 1651.5,1361.4 1648.8,1364.1" fill="#9c6a00"/>
<rect x="1600.6" y="1427.5" width="11.3" height="19.5" fill="#ffaa00"/>
<polygon points="1611.9,1427.5 1614.7,1424.7 1614.7,1444.2 1611.9,1447.0" fill="#8a5a00"/>
<polygon points="1600.6,1427.5 1603.4,1424.7 1614.7,1424.7 1611.9,1427.5" fill="#9c6a00"/>
<rect x="1544.2" y="1526.4" width="12.9" height="3.2" fill="#a8700a"/>
<rect x="1298.8" y="1587.4" width="11.7" height="3.2" fill="#a8700a"/>
<rect x="1422.1" y="1600.4" width="11.7" height="3.2" fill="#a8700a"/>
<rect x="1426.8" y="1630.9" width="12.9" height="3.2" fill="#a8700a"/>
<rect x="1442.0" y="1623.9" width="11.8" height="3.2" fill="#a8700a"/>
<rect x="1625.2" y="1589.8" width="11.8" height="3.2" fill="#a8700a"/>
<rect x="1324.6" y="1710.8" width="11.8" height="3.2" fill="#a8700a"/>
<polygon points="1929.8,1121.3 1909.3999999999999,1186.9 1929.8,1161.8000000000002 " fill="#000" stroke="#000" stroke-width="1.5" stroke-linejoin="miter"/>
<polygon points="1929.8,1122.3 1949.2,1185.9 1929.8,1161.8000000000002 " fill="none" stroke="#000" stroke-width="2.1" stroke-linejoin="miter"/>
<text x="1930.3" y="1113.9" font-size="28.5" text-anchor="middle" font-weight="normal" fill="#000" >N</text>
<rect x="1778.4" y="1680.3" width="51.6" height="25.9" fill="#ffaa00"/>
<text x="1847.3" y="1701.4" font-size="28" text-anchor="start" font-weight="normal" fill="#111" >SIC stock</text>
<text x="1683.8" y="1097.2" font-size="24.5" text-anchor="start" font-weight="normal" fill="#161616" >Liaoning</text>
<text x="1699.4" y="1127.5" font-size="24.5" text-anchor="start" font-weight="normal" fill="#161616" >2.37 Tg</text>
<text x="1432.3" y="1138.3" font-size="24.5" text-anchor="start" font-weight="normal" fill="#161616" >Hebei</text>
<text x="1405.9" y="1168.6" font-size="24.5" text-anchor="start" font-weight="normal" fill="#161616" >3.14 Tg</text>
<text x="1554.6" y="1148.1" font-size="24.5" text-anchor="start" font-weight="normal" fill="#161616" >Tianjin</text>
<text x="1560.5" y="1182.3" font-size="24.5" text-anchor="start" font-weight="normal" fill="#161616" >3.17Tg</text>
<text x="1577.1" y="1209.7" font-size="24.5" text-anchor="start" font-weight="normal" fill="#161616" >Shandong</text>
<text x="1590.8" y="1244.9" font-size="24.5" text-anchor="start" font-weight="normal" fill="#161616" >8.23 Tg</text>
<text x="1605.5" y="1288.0" font-size="24.5" text-anchor="start" font-weight="normal" fill="#161616" >Jiangsu</text>
<text x="1615.3" y="1316.4" font-size="24.5" text-anchor="start" font-weight="normal" fill="#161616" >8.57 Tg</text>
<text x="1661.3" y="1364.3" font-size="24.5" text-anchor="start" font-weight="normal" fill="#161616" >Shanghai</text>
<text x="1681.8" y="1393.7" font-size="24.5" text-anchor="start" font-weight="normal" fill="#161616" >6.89 Tg</text>
<text x="1628.8" y="1431.7" font-size="24.5" text-anchor="start" font-weight="normal" fill="#161616" >Zhejiang</text>
<text x="1629.9" y="1462.2" font-size="24.5" text-anchor="start" font-weight="normal" fill="#161616" >2.46 Tg</text>
<text x="1565.3" y="1515.1" font-size="24.5" text-anchor="start" font-weight="normal" fill="#161616" >Fujian</text>
<text x="1564.2" y="1539.7" font-size="24.5" text-anchor="start" font-weight="normal" fill="#161616" >0.06 Tg</text>
<text x="1312.9" y="1564.4" font-size="24.5" text-anchor="start" font-weight="normal" fill="#161616" >Guangxi</text>
<text x="1325.8" y="1590.2" font-size="24.5" text-anchor="start" font-weight="normal" fill="#161616" >0 Tg</text>
<text x="1440.9" y="1565.6" font-size="24.5" text-anchor="start" font-weight="normal" fill="#161616" >Guangdong</text>
<text x="1467.9" y="1590.2" font-size="24.5" text-anchor="start" font-weight="normal" fill="#161616" >0 Tg</text>
<text x="1469.1" y="1616.1" font-size="24.5" text-anchor="start" font-weight="normal" fill="#161616" >Hong Kong</text>
<text x="1506.6" y="1650.1" font-size="24.5" text-anchor="start" font-weight="normal" fill="#161616" >0 Tg</text>
<text x="1355.2" y="1631.3" font-size="24.5" text-anchor="start" font-weight="normal" fill="#161616" >Macao</text>
<text x="1372.8" y="1664.2" font-size="24.5" text-anchor="start" font-weight="normal" fill="#161616" >0 Tg</text>
<text x="1649.9" y="1579.7" font-size="24.5" text-anchor="start" font-weight="normal" fill="#161616" >Taiwan</text>
<text x="1660.5" y="1609.0" font-size="24.5" text-anchor="start" font-weight="normal" fill="#161616" >0 Tg</text>
<text x="1346.9" y="1707.7" font-size="24.5" text-anchor="start" font-weight="normal" fill="#161616" >Hainan</text>
<text x="1363.4" y="1733.5" font-size="24.5" text-anchor="start" font-weight="normal" fill="#161616" >0 Tg</text>
<rect x="1179.6" y="1013.7" width="830.7" height="741.8" fill="none" stroke="#484848" stroke-width="2.6"/>
<line x1="1335.3" y1="1013.7" x2="1335.3" y2="1006.7" stroke="#484848" stroke-width="2"/>
<text x="1335.3" y="1004.9" font-size="22.0" text-anchor="middle" font-weight="normal" fill="#383838" >110°0'0"E</text>
<line x1="1603.3" y1="1013.7" x2="1603.3" y2="1006.7" stroke="#484848" stroke-width="2"/>
<text x="1603.3" y="1004.9" font-size="22.0" text-anchor="middle" font-weight="normal" fill="#383838" >120°0'0"E</text>
<line x1="1872.0" y1="1013.7" x2="1872.0" y2="1006.7" stroke="#484848" stroke-width="2"/>
<text x="1872.0" y="1004.9" font-size="22.0" text-anchor="middle" font-weight="normal" fill="#383838" >130°0'0"E</text>
<line x1="1179.6" y1="1157.4" x2="1170.6" y2="1157.4" stroke="#484848" stroke-width="2"/>
<text x="1171.9" y="1157.4" font-size="22.0" text-anchor="middle" fill="#383838" transform="rotate(-90 1171.9 1157.4)">40°0'0"N</text>
<line x1="1179.6" y1="1425.2" x2="1170.6" y2="1425.2" stroke="#484848" stroke-width="2"/>
<text x="1171.9" y="1425.2" font-size="22.0" text-anchor="middle" fill="#383838" transform="rotate(-90 1171.9 1425.2)">30°0'0"N</text>
<line x1="1179.6" y1="1693.2" x2="1170.6" y2="1693.2" stroke="#484848" stroke-width="2"/>
<text x="1171.9" y="1693.2" font-size="22.0" text-anchor="middle" fill="#383838" transform="rotate(-90 1171.9 1693.2)">20°0'0"N</text>
<text x="1097.5" y="986.1" font-size="59" text-anchor="start" font-weight="bold" fill="#000" letter-spacing="2.5">(d)</text>
</svg></body></html>
